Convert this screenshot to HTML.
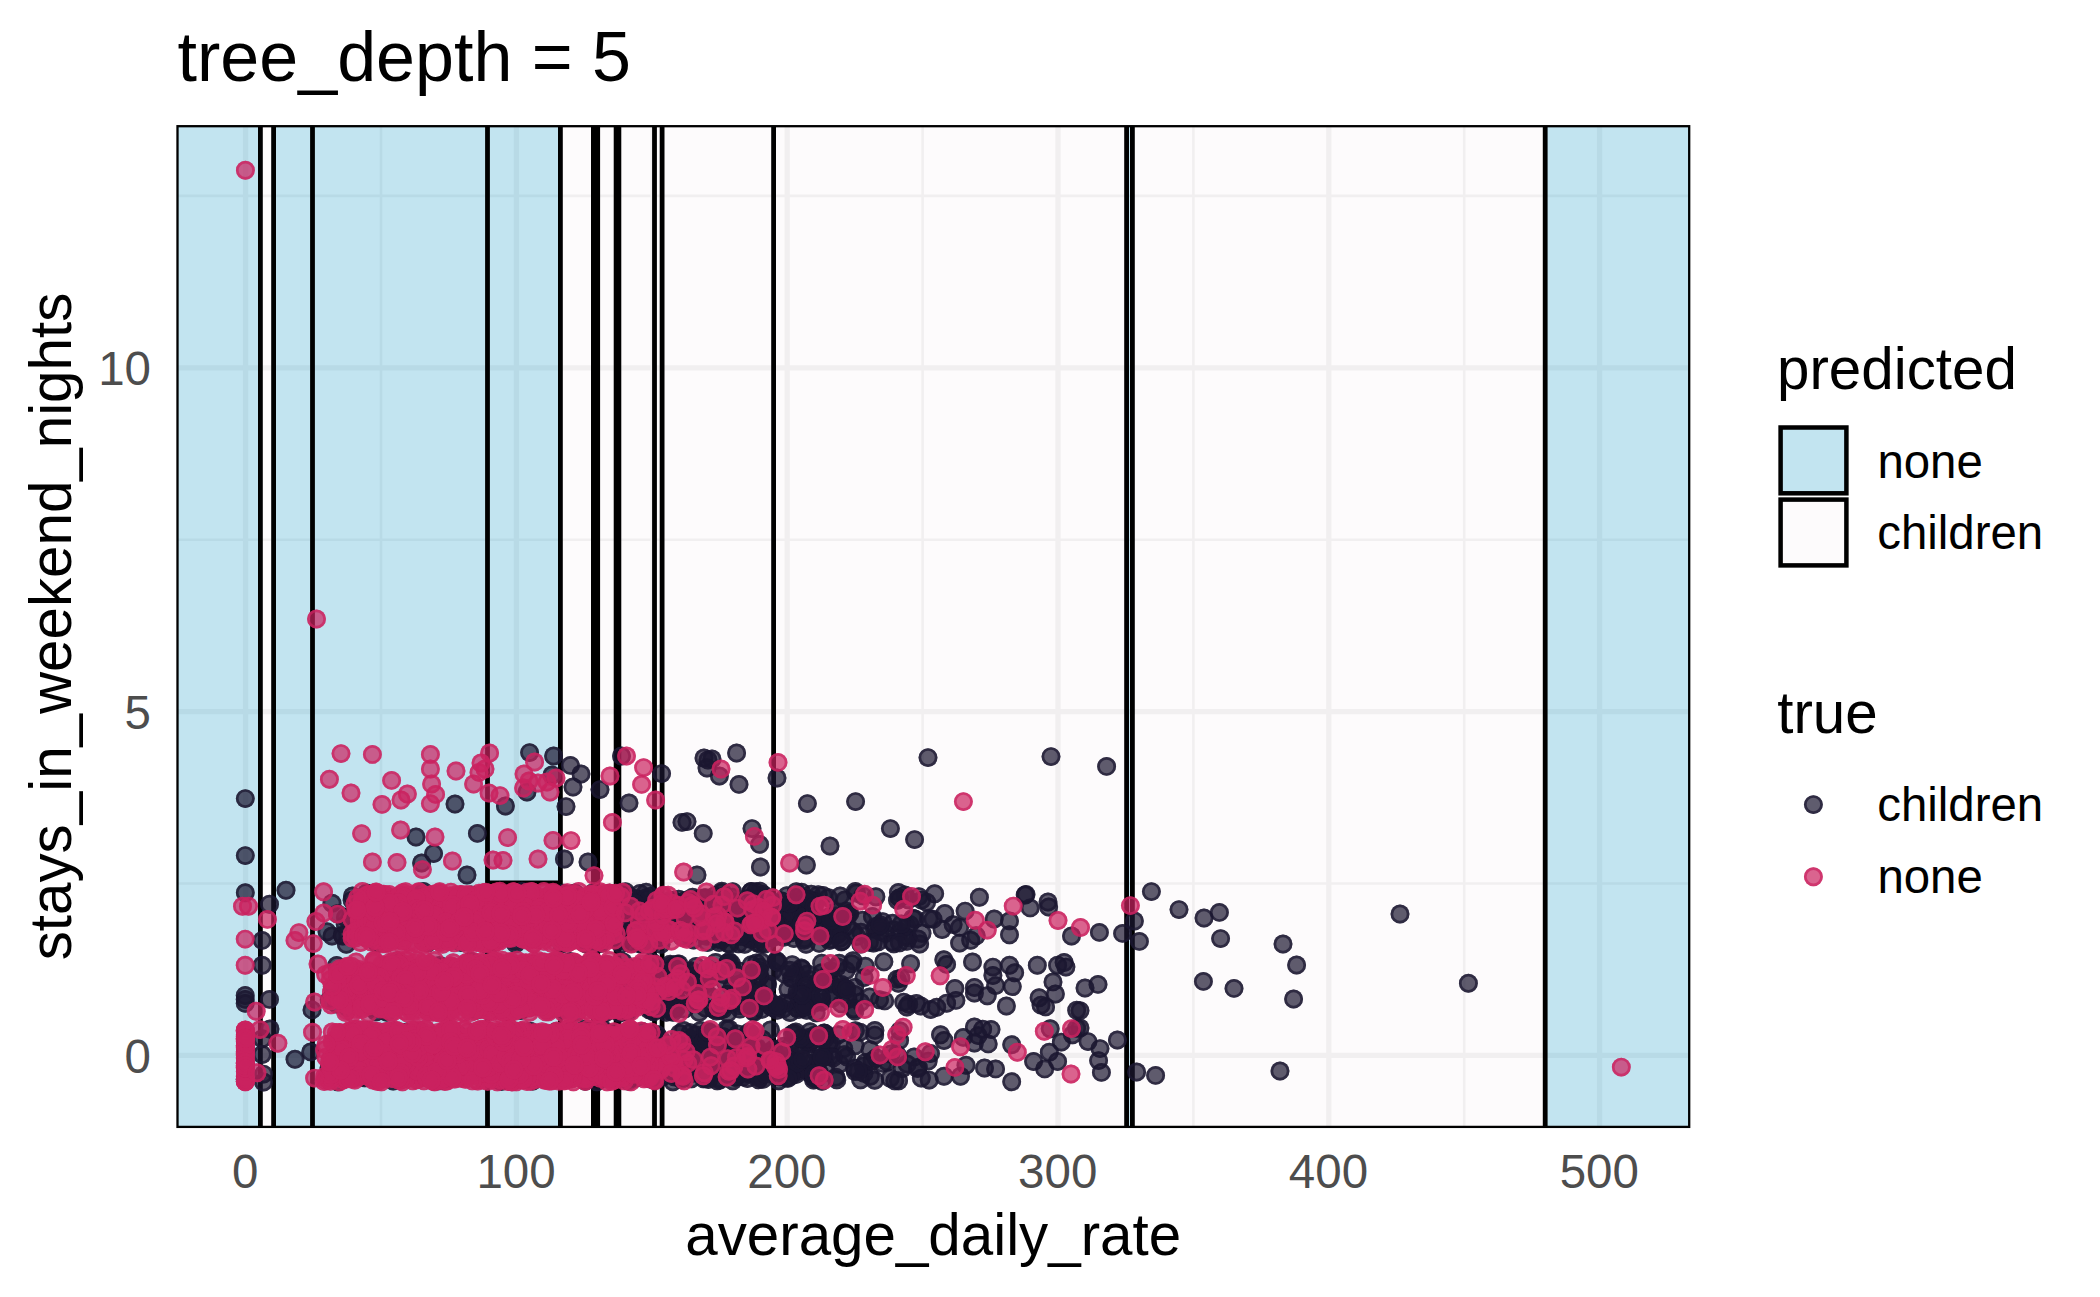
<!DOCTYPE html>
<html lang="en"><head><meta charset="utf-8"><title>tree_depth = 5</title>
<style>html,body{margin:0;padding:0;background:#fff}svg{display:block}text{font-family:'Liberation Sans', sans-serif}</style></head><body>
<svg width="2100" height="1297" viewBox="0 0 2100 1297">
<rect width="2100" height="1297" fill="#fff"/>
<g id="panel">
<rect x="177.5" y="126.2" width="1511.7" height="1000.7" fill="#FDFBFC"/>
<g stroke="#F1EFF0" fill="none">
<line x1="177.5" x2="1689.2" y1="883.5" y2="883.5" stroke-width="2.6"/>
<line x1="177.5" x2="1689.2" y1="539.7" y2="539.7" stroke-width="2.6"/>
<line x1="177.5" x2="1689.2" y1="195.9" y2="195.9" stroke-width="2.6"/>
<line y1="126.2" y2="1126.9" x1="381.0" x2="381.0" stroke-width="2.6"/>
<line y1="126.2" y2="1126.9" x1="651.8" x2="651.8" stroke-width="2.6"/>
<line y1="126.2" y2="1126.9" x1="922.6" x2="922.6" stroke-width="2.6"/>
<line y1="126.2" y2="1126.9" x1="1193.4" x2="1193.4" stroke-width="2.6"/>
<line y1="126.2" y2="1126.9" x1="1464.2" x2="1464.2" stroke-width="2.6"/>
<line x1="177.5" x2="1689.2" y1="1055.4" y2="1055.4" stroke-width="5.3"/>
<line x1="177.5" x2="1689.2" y1="711.6" y2="711.6" stroke-width="5.3"/>
<line x1="177.5" x2="1689.2" y1="367.8" y2="367.8" stroke-width="5.3"/>
<line y1="126.2" y2="1126.9" x1="245.6" x2="245.6" stroke-width="5.3"/>
<line y1="126.2" y2="1126.9" x1="516.4" x2="516.4" stroke-width="5.3"/>
<line y1="126.2" y2="1126.9" x1="787.2" x2="787.2" stroke-width="5.3"/>
<line y1="126.2" y2="1126.9" x1="1058.0" x2="1058.0" stroke-width="5.3"/>
<line y1="126.2" y2="1126.9" x1="1328.8" x2="1328.8" stroke-width="5.3"/>
<line y1="126.2" y2="1126.9" x1="1599.6" x2="1599.6" stroke-width="5.3"/>
</g>
<defs><clipPath id="cb">
<rect x="177.5" y="126.2" width="82.9" height="1000.7"/>
<rect x="273.6" y="126.2" width="286.8" height="1000.7"/>
<rect x="1129.0" y="126.2" width="1.0" height="1000.7"/>
<rect x="1545.2" y="126.2" width="144.0" height="1000.7"/>
</clipPath></defs>
<g clip-path="url(#cb)">
<rect x="177.5" y="126.2" width="1511.7" height="1000.7" fill="#C2E4F0"/>
<g stroke="#B8DAE6" fill="none">
<line x1="177.5" x2="1689.2" y1="883.5" y2="883.5" stroke-width="2.6"/>
<line x1="177.5" x2="1689.2" y1="539.7" y2="539.7" stroke-width="2.6"/>
<line x1="177.5" x2="1689.2" y1="195.9" y2="195.9" stroke-width="2.6"/>
<line y1="126.2" y2="1126.9" x1="381.0" x2="381.0" stroke-width="2.6"/>
<line y1="126.2" y2="1126.9" x1="651.8" x2="651.8" stroke-width="2.6"/>
<line y1="126.2" y2="1126.9" x1="922.6" x2="922.6" stroke-width="2.6"/>
<line y1="126.2" y2="1126.9" x1="1193.4" x2="1193.4" stroke-width="2.6"/>
<line y1="126.2" y2="1126.9" x1="1464.2" x2="1464.2" stroke-width="2.6"/>
<line x1="177.5" x2="1689.2" y1="1055.4" y2="1055.4" stroke-width="5.3"/>
<line x1="177.5" x2="1689.2" y1="711.6" y2="711.6" stroke-width="5.3"/>
<line x1="177.5" x2="1689.2" y1="367.8" y2="367.8" stroke-width="5.3"/>
<line y1="126.2" y2="1126.9" x1="245.6" x2="245.6" stroke-width="5.3"/>
<line y1="126.2" y2="1126.9" x1="516.4" x2="516.4" stroke-width="5.3"/>
<line y1="126.2" y2="1126.9" x1="787.2" x2="787.2" stroke-width="5.3"/>
<line y1="126.2" y2="1126.9" x1="1058.0" x2="1058.0" stroke-width="5.3"/>
<line y1="126.2" y2="1126.9" x1="1328.8" x2="1328.8" stroke-width="5.3"/>
<line y1="126.2" y2="1126.9" x1="1599.6" x2="1599.6" stroke-width="5.3"/>
</g></g>
<g stroke="#000" stroke-width="4.8" fill="none">
<line x1="260.4" x2="260.4" y1="126.2" y2="1126.9"/>
<line x1="273.6" x2="273.6" y1="126.2" y2="1126.9"/>
<line x1="312.5" x2="312.5" y1="126.2" y2="1126.9"/>
<line x1="487.5" x2="487.5" y1="126.2" y2="1126.9"/>
<line x1="560.4" x2="560.4" y1="126.2" y2="1126.9"/>
<line x1="593.4" x2="593.4" y1="126.2" y2="1126.9"/>
<line x1="597.7" x2="597.7" y1="126.2" y2="1126.9"/>
<line x1="616.2" x2="616.2" y1="126.2" y2="1126.9"/>
<line x1="618.8" x2="618.8" y1="126.2" y2="1126.9"/>
<line x1="654.5" x2="654.5" y1="126.2" y2="1126.9"/>
<line x1="662.1" x2="662.1" y1="126.2" y2="1126.9"/>
<line x1="773.6" x2="773.6" y1="126.2" y2="1126.9"/>
<line x1="1126.6" x2="1126.6" y1="126.2" y2="1126.9"/>
<line x1="1132.4" x2="1132.4" y1="126.2" y2="1126.9"/>
<line x1="1545.2" x2="1545.2" y1="126.2" y2="1126.9"/>
<line x1="487.5" x2="560.4" y1="882.8" y2="882.8"/>
</g>
<rect x="591.1" y="126.2" width="8.9" height="1000.7" fill="#000"/>
<rect x="613.9" y="126.2" width="7.2" height="1000.7" fill="#000"/>
</g>
<defs>
<marker id="mk" markerUnits="userSpaceOnUse" markerWidth="24" markerHeight="24" refX="12" refY="12" viewBox="0 0 24 24" orient="0"><circle cx="12" cy="12" r="9.45" fill="#1B1730" fill-opacity=".7"/><circle cx="12" cy="12" r="8.10" fill="none" stroke="#1B1730" stroke-opacity=".7" stroke-width="2.70"/></marker>
<marker id="mn" markerUnits="userSpaceOnUse" markerWidth="24" markerHeight="24" refX="12" refY="12" viewBox="0 0 24 24" orient="0"><circle cx="12" cy="12" r="9.45" fill="#CB2260" fill-opacity=".7"/><circle cx="12" cy="12" r="8.10" fill="none" stroke="#CB2260" stroke-opacity=".7" stroke-width="2.70"/></marker>
<clipPath id="cp"><rect x="177.5" y="126.2" width="1511.7" height="1000.7"/></clipPath></defs>
<g id="points" clip-path="url(#cp)">
<polyline fill="none" stroke="none" marker-start="url(#mk)" marker-mid="url(#mk)" marker-end="url(#mk)" points="677.8,1076.6 882.8,921.8 553.6,962.5 786.8,1068.2 832.1,998.2 797.3,1048.3 942.1,929.5 612.6,915.0 447.6,937.8 490.6,967.3 824.3,1056.8 364.2,913.3 503.4,972.3 807.7,900.1 679.6,1033.4 819.1,930.2 776.5,960.4 701.8,1064.8 745.4,1073.3 621.3,937.1 799.7,931.6 773.2,1007.1 598.5,939.0 739.6,1072.6 503.6,1044.1 718.1,1072.6 761.0,1068.9 708.8,935.0 803.5,898.0 864.1,977.6 710.8,996.2 724.2,901.2 770.1,929.9 724.9,897.6 620.8,944.3 580.6,1036.4 390.5,1060.9 770.0,1053.0 692.6,897.2 678.9,963.9 616.7,980.4 705.0,911.6 771.4,1007.0 432.6,914.9 386.5,1043.0 854.7,987.4 723.1,923.8 746.8,919.0 611.7,895.3 679.5,1077.4 526.7,919.6 560.5,1055.1 534.7,919.4 738.6,1053.8 364.8,1077.7 617.2,1047.1 611.0,1041.2 848.0,999.5 635.6,1057.8 738.5,990.3 457.9,1051.7 609.6,1048.0 585.2,973.4 577.1,1012.4 744.7,930.3 636.6,898.6 791.5,978.6 854.7,1068.3 883.9,961.8 738.6,915.5 779.8,910.2 905.8,936.5 781.9,927.3 760.0,991.8 687.3,1045.3 831.3,939.0 594.3,941.4 864.0,1073.4 758.0,1074.1 818.0,1071.4 603.4,1029.6 639.4,1050.0 856.8,936.5 795.4,1052.8 783.2,1068.0 635.6,901.3 598.7,989.3 651.7,1010.3 750.5,1036.3 514.5,906.9 796.4,1061.2 712.4,914.3 467.0,966.7 784.7,905.7 734.4,1077.4 829.4,917.1 619.2,906.9 353.7,994.6 767.7,984.0 720.1,1078.4 650.5,1079.1 933.0,919.2 563.3,977.3 809.4,1043.7 758.9,1070.0 783.5,1046.3 716.6,933.4 821.7,998.5 626.7,899.2 630.8,1067.7 826.4,1035.9 455.9,1077.6 882.6,1063.4 377.8,943.5 728.0,943.5 757.7,930.1 709.3,978.6 693.5,972.3 623.7,900.0 764.7,944.1 787.0,1069.7 346.3,944.3 399.6,1070.3 493.2,1037.8 690.8,1044.3 630.4,985.6 327.0,931.7 680.4,917.7 812.0,922.7 688.2,1059.7 816.1,1012.8 605.3,1012.9 793.1,1072.3 821.3,927.9 426.5,1004.0 749.7,973.7 735.4,1057.1 791.0,1061.1 621.0,1055.4 366.8,1004.4 909.8,924.5 501.1,1081.6 775.3,906.0 526.4,1036.3 661.1,975.1 670.4,900.3 865.3,1062.4 715.5,1058.0 694.6,1000.9 476.0,1010.4 560.8,938.1 712.1,1047.0 524.8,933.5 934.7,893.8 673.8,900.5 840.4,918.6 817.9,1062.8 653.6,1011.9 771.2,1062.7 640.6,968.2 701.2,1054.1 634.6,1042.3 520.8,1010.5 381.5,933.5 739.3,1056.9 798.0,914.0 763.1,1062.3 681.4,1077.8 587.9,986.6 571.7,1054.3 898.4,983.4 539.1,1068.7 899.5,897.9 757.4,1059.1 824.6,1033.3 723.5,1036.6 765.4,997.6 463.5,915.9 449.2,1043.6 809.6,1042.3 483.3,931.3 691.4,1078.7 844.7,900.0 716.0,971.5 686.0,1040.3 490.3,996.9 728.5,1057.9 774.6,916.4 819.5,1075.3 573.8,990.0 543.5,1062.6 727.9,925.6 755.6,1060.6 535.4,900.6 811.2,995.9 678.4,1053.9 801.3,968.0 800.2,924.8 629.6,943.0 593.7,1069.8 874.7,1035.1 575.5,1004.3 751.1,1069.1 708.4,1031.3 854.9,1011.0 733.7,917.4 486.6,914.2 836.8,920.4 716.5,939.0 617.4,930.6 642.2,1031.4 929.2,1080.1 482.6,934.0 673.0,1012.4 577.2,1036.8 846.8,926.3 829.6,916.5 742.5,1039.7 810.6,925.1 580.4,896.6 523.0,1034.9 500.4,936.8 872.4,916.4 794.1,912.4 358.0,983.0 729.1,1029.0 518.1,1035.2 560.8,924.7 776.3,961.6 703.5,1078.8 783.0,915.1 656.5,1050.0 587.3,1006.0 544.1,910.9 366.6,892.9 530.3,1031.2 702.8,1053.7 792.2,964.6 347.4,1039.8 810.0,1073.5 511.2,924.8 423.6,1056.6 815.4,1066.5 774.2,903.4 646.4,921.7 499.9,963.9 558.6,979.0 897.1,979.1 800.9,1067.4 681.9,997.2 571.4,1000.8 469.2,912.1 370.1,979.8 898.6,1080.8 336.8,1038.5 617.6,900.2 588.1,1029.6 713.5,1009.3 462.7,913.8 658.1,970.7 793.1,919.2 918.9,896.6 555.7,1031.7 585.6,1080.6 632.2,998.8 397.3,939.5 750.8,1033.4 691.5,986.7 758.9,1064.7 917.5,1068.6 613.2,1006.5 777.1,1005.1 370.5,996.5 659.3,978.5 646.8,916.6 534.8,1048.9 635.0,1066.8 374.6,998.5 836.6,920.3 772.7,913.9 581.7,924.0 521.9,891.3 546.2,977.9 720.8,939.8 830.6,970.6 567.6,1009.2 739.3,935.7 612.7,1076.2 592.3,902.4 691.3,970.8 687.9,924.5 668.9,990.7 851.8,963.7 821.7,963.3 609.3,1065.6 576.3,1044.7 499.4,979.4 676.8,999.9 672.5,968.0 532.7,1081.0 666.1,910.3 735.0,1055.3 741.0,932.8 375.0,1008.7 856.4,893.1 585.0,1046.1 521.9,1069.2 478.3,1069.6 727.6,1013.1 743.5,1004.8 623.8,908.5 622.7,906.4 477.1,1057.9 784.3,973.7 738.8,1042.6 571.5,1078.6 794.4,917.9 763.4,894.4 740.0,930.6 541.6,921.8 905.0,895.0 776.1,1007.8 614.6,909.6 660.6,938.7 558.1,1000.5 477.1,1066.2 643.9,1039.1 846.3,915.6 785.1,929.0 641.0,944.3 621.2,1010.0 780.0,1076.9 810.4,1063.1 708.6,969.3 410.3,1066.3 836.8,1079.9 503.1,1068.3 579.7,983.3 828.3,1044.9 609.8,893.2 702.8,915.7 518.1,1077.1 860.8,944.0 714.8,895.6 674.2,1076.8 662.1,1077.2 349.0,1032.1 654.9,1080.3 718.6,913.2 465.9,1065.1 486.6,1075.1 351.0,915.3 685.6,1068.0 839.7,1064.0 664.3,917.7 870.3,1076.2 854.7,994.5 690.4,1038.6 771.5,937.0 650.9,1004.3 723.3,904.9 838.2,1034.7 724.6,933.3 855.2,1071.6 410.3,1033.4 754.0,992.7 727.1,994.3 779.2,1071.7 565.7,973.5 754.0,1012.4 898.4,892.4 860.9,932.2 701.8,1070.4 779.3,1049.6 798.7,1009.5 756.5,990.7 550.7,970.7 725.0,981.5 426.8,934.6 846.1,970.5 813.4,1077.6 900.9,978.3 822.3,929.4 734.1,971.4 345.4,917.7 360.9,1076.7 840.0,938.2 443.5,898.0 704.2,983.8 598.4,1041.9 786.4,1077.8 825.4,932.4 592.2,1032.6 352.8,1052.5 459.8,934.2 621.6,1000.3 837.3,934.9 740.3,910.6 766.5,986.3 860.6,1079.7 702.3,1058.9 874.7,1080.2 839.2,963.2 374.0,991.3 810.5,992.2 799.9,1054.3 670.2,964.1 400.6,910.2 700.1,1038.5 587.8,1066.5 507.9,1000.0 614.8,932.1 659.5,1062.1 759.5,977.1 693.2,1042.5 713.9,927.3 706.2,1042.9 802.3,969.1 722.0,918.3 855.1,1045.8 386.9,1012.2 633.9,1054.8 552.5,1073.2 586.3,969.6 458.5,976.9 641.7,1052.7 511.2,921.7 747.4,1078.6 620.6,1043.8 456.9,1052.6 339.7,975.9 604.5,1054.6 709.8,1037.1 631.2,1034.8 578.2,922.9 706.5,936.4 813.6,1080.1 563.1,1041.2 773.7,1049.0 890.3,1078.2 908.2,899.8 617.2,1078.5 628.2,1012.3 616.8,896.4 661.1,905.7 804.1,940.3 470.6,961.1 690.9,925.3 663.0,932.8 561.7,944.1 691.7,1002.4 894.8,1080.8 715.2,1061.1 479.4,938.8 661.1,1039.4 559.7,969.4 689.0,930.3 843.8,1048.6 730.6,905.3 518.4,896.7 550.6,1054.3 450.3,1050.0 622.1,1042.7 622.6,979.4 682.1,915.2 629.1,918.5 885.5,933.6 732.6,897.3 536.5,1002.8 696.1,966.5 738.6,943.8 821.6,1002.1 532.4,901.1 630.9,999.3 789.6,1060.5 591.5,1032.8 741.5,1001.1 654.2,1045.5 653.5,903.3 783.4,1008.8 571.8,1030.3 874.6,929.1 617.6,1047.0 630.6,1053.5 756.2,911.1 828.4,897.7 786.4,1067.2 777.1,1010.2 531.6,1070.6 722.5,1005.9 789.5,1046.8 869.3,942.3 662.7,903.4 716.3,1011.0 536.7,1065.0 766.4,1052.9 840.5,917.8 760.1,929.4 829.1,1042.6 940.5,1034.8 727.8,962.6 721.8,892.8 740.9,909.9 406.8,1031.9 751.0,922.2 893.8,943.7 814.9,919.3 914.1,1057.0 531.8,1052.8 783.2,908.2 695.9,1054.6 332.0,903.2 752.3,912.5 761.9,1009.3 697.5,986.2 481.0,1046.8 761.2,997.3 359.3,990.0 461.0,942.5 477.6,898.5 332.0,936.0 397.9,960.8 614.3,1001.8 755.8,891.8 896.9,1054.1 442.7,966.6 792.5,915.2 748.2,938.2 423.8,1075.2 811.0,1058.7 640.6,1044.1 662.5,1008.3 842.1,924.2 422.2,1072.7 664.5,926.8 599.6,914.4 801.6,892.1 707.5,942.6 824.0,923.5 659.0,1042.0 662.3,1044.4 678.7,899.1 806.7,1010.2 627.1,909.4 803.3,903.3 676.8,917.9 710.6,932.0 406.8,970.7 863.3,1066.1 855.4,1030.8 451.3,969.0 704.8,984.8 893.4,929.7 682.0,936.9 739.7,984.0 561.5,975.3 354.4,913.0 797.6,1071.4 471.5,903.1 916.4,1003.4 624.6,1061.5 892.6,923.2 874.9,1030.4 667.0,983.1 844.1,1054.6 660.9,1007.7 902.4,1068.5 649.1,973.8 559.5,896.1 669.9,914.2 748.8,1002.5 719.1,1046.5 713.4,931.8 821.2,1039.1 402.7,898.8 815.9,1068.1 801.1,992.3 635.2,1078.6 831.3,1044.1 690.8,932.9 508.7,919.0 809.1,979.4 672.6,1072.4 625.0,938.9 599.6,1053.0 352.1,900.2 564.2,937.6 393.2,1081.0 457.6,1034.1 453.7,998.4 515.6,943.9 585.5,940.2 804.4,982.3 740.2,1056.4 632.4,943.6 671.7,965.4 634.1,1063.5 755.8,1057.8 899.8,1030.7 772.8,971.0 796.3,891.8 783.8,918.3 628.6,1071.6 762.9,1079.3 405.7,983.6 596.8,1081.8 700.6,1030.5 668.9,1066.9 771.8,1007.1 380.2,982.6 822.1,1051.9 623.1,962.0 848.5,913.5 740.6,930.2 720.4,1061.7 610.6,1073.9 435.7,909.2 647.9,941.0 781.1,936.4 810.0,1031.8 759.6,1077.5 329.2,1000.1 718.1,1071.1 651.8,991.9 532.9,1062.1 677.9,908.3 906.8,941.3 635.2,976.7 589.1,963.1 612.4,978.5 635.5,918.3 751.3,937.0 761.8,962.2 473.1,1050.5 804.5,938.6 545.8,1056.8 830.3,1056.5 526.5,1074.3 764.8,897.0 428.0,942.7 600.1,974.2 768.8,1052.8 715.6,962.4 770.5,1029.9 642.4,938.8 384.0,1057.7 366.8,1034.3 860.6,1002.3 356.7,1047.0 753.8,1010.7 736.0,1077.0 674.9,991.1 609.1,976.7 563.2,893.8 845.2,988.7 692.5,1069.6 900.0,931.7 770.8,938.1 681.0,910.7 566.5,937.2 622.9,894.0 705.0,990.1 596.9,936.8 593.0,1033.2 705.7,1078.5 490.4,983.4 620.2,1070.1 593.6,1058.5 912.7,918.2 628.6,1081.3 732.1,987.3 723.2,1009.4 634.5,1043.0 699.2,1012.2 687.3,979.3 806.8,1041.6 600.7,943.6 676.3,1008.3 915.0,919.0 827.3,935.2 819.3,1072.5 619.1,967.7 760.6,932.2 342.5,935.1 493.1,942.7 818.2,894.7 770.8,925.0 751.4,964.8 786.9,895.8 766.0,912.7 577.4,972.8 769.1,1000.4 739.1,971.0 781.1,900.7 654.6,968.8 626.1,1049.8 724.0,1074.3 840.2,896.0 648.3,1062.0 619.4,919.3 394.1,1047.2 630.6,1068.2 762.5,929.3 791.0,902.5 672.0,974.0 758.0,1074.9 836.1,915.8 337.5,913.7 724.7,937.8 792.0,1001.6 639.9,893.5 696.7,1045.1 846.6,911.2 797.2,992.2 822.0,1081.3 666.7,1008.2 626.6,1035.5 652.8,937.0 739.7,990.7 736.8,931.2 537.9,967.6 756.0,932.4 729.8,944.2 899.6,1040.2 551.7,972.6 681.1,973.7 777.7,923.9 814.0,1003.4 673.5,1072.6 423.5,891.5 750.9,939.6 579.2,965.4 701.8,1042.2 826.9,981.6 553.8,1039.2 666.3,1012.4 773.8,911.1 588.9,899.5 658.1,997.4 607.4,1061.5 650.1,969.9 681.8,1040.6 721.8,891.3 415.5,1065.1 719.8,1080.1 790.1,1012.5 345.5,1072.4 498.8,929.1 689.6,935.6 555.6,896.1 853.0,960.7 329.0,1068.0 553.7,978.8 677.3,902.4 685.7,1063.8 831.6,928.1 599.3,906.1 732.3,1072.0 695.4,1034.7 753.8,1067.7 829.4,940.5 601.0,922.6 669.1,1050.6 612.0,898.2 619.6,1036.5 397.1,1001.3 726.0,905.6 673.4,967.7 473.9,1074.1 926.6,902.3 796.0,1007.6 731.5,1071.5 726.6,1071.8 458.9,1077.4 584.7,1029.1 610.3,1005.7 442.8,1000.0 727.8,963.9 759.9,967.2 892.3,942.0 687.2,980.4 673.0,983.8 722.1,1070.7 649.3,1055.8 651.3,1057.5 677.0,919.0 439.4,965.4 840.5,987.7 708.0,917.5 666.6,995.1 371.7,936.7 803.8,916.7 570.0,961.5 707.0,924.6 598.6,1035.8 696.4,899.8 752.6,993.5 749.7,898.0 734.4,1067.5 830.9,995.4 542.0,1049.9 734.9,1038.4 627.9,1044.3 930.5,1053.5 875.8,926.5 918.3,1067.1 765.0,924.9 730.6,935.0 338.9,1050.2 705.7,897.6 872.1,1060.7 849.8,913.6 821.7,972.6 749.5,1073.9 879.2,926.8 862.6,920.2 788.9,1068.8 847.1,997.2 767.8,899.8 473.1,1067.4 793.9,938.5 757.2,942.7 769.7,1059.6 596.9,1066.5 897.5,900.3 724.7,967.7 816.0,1075.6 649.2,1009.7 760.3,944.1 753.1,1045.6 853.0,931.5 887.1,1061.8 565.6,906.2 508.0,898.4 722.8,1040.6 521.2,1055.6 528.6,990.9 561.8,1010.0 674.8,1000.8 813.6,900.8 376.2,1011.9 910.6,963.8 644.0,991.1 486.4,1052.9 760.6,911.6 655.0,1061.6 661.0,970.7 614.7,1032.5 444.4,1072.0 536.7,970.4 451.9,1066.3 651.8,917.8 595.3,1039.5 557.6,918.2 502.6,910.9 944.0,1076.3 617.3,985.1 361.7,1073.5 684.5,1009.1 650.4,1060.4 717.2,1080.7 646.5,1071.7 366.7,897.6 661.0,944.2 879.7,931.4 660.9,918.6 808.1,920.2 818.7,926.8 692.7,1073.4 580.6,976.2 701.7,974.7 535.1,1059.4 795.7,896.7 515.3,941.1 653.0,1079.5 448.4,1068.1 812.5,1038.7 794.0,1033.1 740.3,1005.9 807.6,1005.9 903.7,1002.1 615.7,973.9 589.7,905.5 721.5,1064.1 750.8,999.4 716.0,922.0 689.9,902.4 468.7,1042.6 645.5,1002.0 706.5,1036.4 591.9,993.7 549.6,1057.8 341.8,983.7 578.8,1072.0 579.2,913.3 633.9,920.2 636.9,1043.2 603.6,967.0 507.2,1075.5 718.0,1005.6 414.3,1053.1 498.1,939.6 841.5,1003.9 529.1,987.7 549.3,908.4 336.7,965.4 540.8,988.7 405.1,898.9 752.6,989.0 593.2,1031.6 433.1,927.7 358.4,1032.0 696.5,994.4 564.1,904.1 681.2,1072.5 758.5,1079.8 825.9,937.0 629.2,896.3 693.6,940.0 919.7,944.0 562.6,933.0 803.3,1068.8 545.3,898.8 342.8,936.0 654.5,941.6 908.7,1004.3 831.1,983.9 651.0,934.6 596.6,1043.2 734.1,1037.9 625.5,891.8 596.4,943.4 760.6,904.3 509.4,909.1 784.3,1003.3 672.5,925.6 829.0,917.7 519.6,1052.8 778.3,962.4 353.4,971.4 757.5,938.9 637.2,967.2 835.9,1077.2 756.7,1071.8 661.5,902.7 650.3,1077.7 563.8,893.2 568.2,1057.9 647.0,944.4 457.3,1045.0 631.8,911.0 819.2,943.4 650.8,896.2 517.5,971.2 452.9,1057.4 683.6,1030.5 337.8,1081.8 352.5,896.0 743.1,1076.7 806.1,1039.2 637.9,1076.1 757.3,1047.6 375.3,1002.8 586.1,943.1 634.6,931.3 556.1,1076.6 379.1,917.8 666.4,1005.9 610.0,1074.5 443.7,986.3 637.4,967.8 823.7,1056.3 615.4,1042.6 846.7,1056.7 422.7,1036.3 767.2,1001.3 639.8,903.0 767.0,906.4 719.2,942.6 790.8,932.9 860.0,1032.1 590.3,1044.4 643.2,941.4 369.1,1049.3 580.0,913.8 788.2,1059.7 814.7,920.7 329.4,1074.6 621.7,1056.3 611.4,935.8 818.7,1059.0 648.6,1033.8 414.6,1051.6 744.7,944.3 708.0,1039.9 462.6,911.3 795.8,1074.5 654.9,981.8 613.7,998.7 607.5,964.7 790.9,1076.1 649.7,1005.2 495.2,1059.4 833.1,1057.8 373.1,1053.5 645.3,911.8 613.5,928.5 732.8,1080.7 383.4,1040.9 535.6,918.0 657.0,1034.5 729.1,961.4 834.8,920.5 588.3,1066.3 537.1,983.4 795.4,972.7 689.6,1058.6 645.7,917.0 673.0,1081.7 759.8,1078.1 723.9,974.6 777.9,1005.5 575.4,1034.0 783.0,1068.2 691.9,1062.6 711.1,1033.1 783.3,937.4 573.9,1066.8 654.9,925.9 793.0,930.1 675.3,995.8 870.1,1049.6 823.0,895.5 748.0,931.9 690.2,1032.7 604.1,1040.0 675.9,904.6 725.9,1004.0 825.8,1066.7 508.1,893.9 646.1,892.3 733.0,1052.4 778.1,1071.6 873.4,943.0 724.4,895.6 759.5,975.5 773.2,937.6 672.6,923.6 345.1,1053.3 557.5,916.5 609.6,1039.5 677.0,964.3 853.8,1008.8 664.6,981.9 706.2,970.1 703.3,912.3 728.0,1053.2 674.8,1006.8 484.1,921.1 814.0,906.5 908.2,938.1 708.4,1079.6 600.2,1062.8 706.6,1047.2 685.8,900.3 622.3,895.6 570.7,1058.0 673.3,994.2 612.5,1079.2 449.8,933.8 815.6,914.6 828.7,973.5 438.9,1080.8 703.8,926.6 737.7,1069.3 819.7,933.2 766.0,910.3 775.7,924.0 737.6,1034.0 816.5,983.3 756.4,962.9 936.7,1007.3 862.7,895.8 480.5,919.5 704.0,897.9 839.1,932.8 626.9,1034.5 599.9,1070.2 640.9,1067.1 575.7,963.9 646.9,1006.1 751.0,891.7 806.1,944.2 357.9,1037.7 748.9,976.0 578.1,917.1 727.1,964.8 819.6,980.6 899.4,897.9 345.2,924.6 471.1,895.0 740.5,1073.6 636.4,1037.8 505.8,988.4 798.0,995.2 907.1,1064.0 706.6,925.3 756.0,1048.2 807.6,973.9 655.3,985.3 507.9,1076.6 587.5,1063.2 646.5,897.7 734.5,1038.9 428.5,931.0 802.4,1008.3 742.7,914.8 674.3,990.5 686.8,1051.9 731.3,963.4 768.0,919.9 831.2,920.2 683.7,973.2 865.3,966.3 906.6,925.9 513.1,973.5 425.7,1059.2 780.1,930.5 529.7,983.6 745.1,981.6 674.0,969.5 697.8,1061.6 615.5,898.4 682.1,1040.3 534.7,927.2 599.8,895.9 811.2,894.3 822.1,1057.3 442.7,1080.4 518.5,982.7 814.4,1035.3 855.4,891.5 468.7,898.1 748.7,1032.2 624.2,1035.1 875.9,896.8 336.6,1004.1 824.5,1039.1 705.2,1007.9 493.7,1068.7 666.3,975.9 890.8,1054.0 619.6,1013.1 616.4,1004.4 808.3,899.4 858.3,1071.0 709.9,1058.7 930.7,1009.5 586.4,944.0 634.5,1055.7 584.9,1039.8 884.7,1000.9 361.5,935.0 842.2,941.3 751.0,1005.4 506.0,917.4 568.4,901.7 618.8,940.7 605.4,1032.5 482.1,967.1 792.4,1034.0 509.1,917.4 726.5,1028.9 420.4,976.5 592.2,893.2 572.1,1071.0 815.7,1079.1 789.4,903.5 918.1,939.0 449.1,1062.5 512.9,1050.7 631.8,1041.6 798.3,929.5 762.5,909.4 765.9,1074.0 629.5,1006.7 499.5,903.1 732.7,901.6 644.2,913.2 765.1,1060.6 741.4,1059.7 879.5,999.7 372.1,916.2 750.8,1046.5 651.8,961.6 679.3,1075.6 782.8,901.8 944.0,1040.5 605.7,1078.4 569.1,972.9 837.3,912.7 778.7,1080.7 797.1,1062.8 807.5,1037.7 732.7,891.7 741.2,936.3 431.5,922.4 646.9,919.4 878.2,941.7 461.2,1061.3 414.6,927.9 705.3,927.8 652.1,911.1 792.7,978.2 755.1,1053.4 624.0,936.0 714.1,912.7 671.1,1049.2 922.0,933.2 554.3,898.6 420.2,897.5 670.2,1011.0 671.1,971.2 700.1,1073.6 585.2,1081.2 494.9,899.7 717.3,1052.7 722.9,899.4 536.1,994.2 841.4,984.5 688.1,904.3 567.1,986.2 505.3,1002.2 759.8,891.3 583.3,941.3 347.6,1007.8 560.7,966.8 804.3,1006.7 928.2,1061.1 332.7,988.1 574.8,893.0 841.6,987.5 588.0,1044.2 806.4,986.2 620.6,936.6 789.7,970.2 333.7,1065.0 454.0,1076.1 376.9,943.5 570.8,903.5 551.4,1057.9 579.5,1041.1 703.5,1041.5 531.2,904.1 477.9,975.7 802.6,1059.4 800.4,1038.1 837.4,966.8 452.8,1039.4 655.8,1009.6 899.4,942.8 584.8,909.2 433.1,1079.3 752.5,1047.5 398.3,900.8 573.0,1041.3 813.5,1073.9 929.0,918.7 600.8,938.3 657.3,1047.5 802.1,995.0 921.3,1078.1 820.6,995.6 484.8,1004.3 618.8,892.9 841.2,941.9 846.7,989.0 594.7,1010.1 787.9,1078.4 533.6,916.4 906.9,1007.0 746.7,1034.6 537.5,1062.4 795.8,1032.0 880.0,924.7 876.1,1057.7 739.9,1009.1 770.4,935.2 685.7,1058.3 604.1,1058.7 681.5,1079.6 612.6,911.1 824.0,1032.9 762.5,1039.2 719.6,1010.2 774.8,922.7 449.2,1036.5 751.3,891.4 707.5,1031.9 687.7,910.2 920.8,1006.0 788.1,989.3 673.1,906.9 760.5,906.4 673.7,923.0 669.7,908.5 575.3,1054.7 715.6,922.7 696.3,975.6 639.9,943.5 758.5,970.7 622.8,910.1 398.0,1056.5 901.3,924.0 746.3,901.2 657.5,1050.1 490.5,995.3 726.4,1049.5 343.2,985.4 460.4,971.1 625.1,983.0 516.4,984.3 594.8,1045.4 701.5,898.3 351.3,994.4 801.6,923.6 505.4,931.1 635.0,903.6 869.7,996.9 357.4,921.2 921.6,900.1 616.6,1008.8 814.4,906.3 526.8,978.4 486.5,944.3 245.3,798.6 245.3,855.6 245.3,892.8 286.0,890.3 269.5,904.2 262.2,940.4 262.2,965.3 245.2,995.5 245.2,999.4 245.2,1003.4 269.5,999.4 270.0,1029.0 262.2,1038.8 262.2,1054.5 263.5,1074.1 263.5,1082.0 245.2,1079.4 295.0,1059.2 312.0,1009.9 310.7,1051.9 455.0,804.0 416.0,837.0 433.6,853.6 421.6,863.0 477.4,833.4 467.0,875.0 505.4,806.0 529.6,752.6 553.6,756.0 527.0,792.0 552.0,775.0 570.4,765.4 581.0,774.0 573.0,787.0 566.0,806.6 600.0,789.6 621.5,756.0 629.0,803.0 564.4,859.0 588.0,862.0 661.6,773.6 704.0,758.0 708.0,760.0 712.0,759.0 707.0,768.0 719.4,776.0 736.6,753.0 739.0,784.4 777.0,778.0 682.0,822.4 687.0,821.6 703.2,833.4 752.0,828.6 759.6,844.4 760.4,867.0 697.0,875.0 807.4,803.6 855.6,801.6 830.0,846.0 806.4,865.0 890.4,828.6 914.6,839.6 928.0,757.6 1051.0,756.6 1106.6,766.4 1026.0,894.4 1048.0,902.0 1151.4,891.6 1179.0,909.6 1204.0,918.0 1219.4,912.4 1220.6,938.6 1283.0,944.0 1296.6,965.0 1293.6,999.0 1203.4,981.4 1234.0,988.4 1400.0,914.0 1468.4,983.2 1280.0,1071.0 1155.6,1075.4 1136.6,1072.0 1134.4,921.0 1139.4,941.4 1122.6,933.4 1099.4,932.4 1098.0,984.4 1085.0,988.0 1080.0,1010.6 1080.0,1028.0 1088.0,1041.6 1100.0,1048.6 1117.4,1040.0 1098.6,1060.6 1101.4,1072.4 979.4,897.2 965.1,911.1 994.2,919.0 1009.5,920.9 1009.5,934.8 1025.2,895.0 1030.2,907.9 1048.7,907.0 1071.5,936.0 976.2,935.7 970.7,940.3 959.6,943.1 959.6,927.4 953.1,924.6 944.8,913.5 972.5,962.0 992.9,967.1 992.9,975.5 995.6,985.6 987.3,995.8 974.4,987.5 974.4,993.0 1009.5,965.3 1014.7,972.7 1012.3,986.6 1006.4,1006.0 1037.3,965.3 1057.6,965.3 1064.1,962.5 1065.9,967.1 1053.0,981.9 1055.4,994.0 1039.1,997.7 1041.0,1005.1 1045.6,1006.9 1076.7,1010.2 954.9,988.4 955.9,1000.4 946.6,1003.2 943.8,959.7 946.6,964.4 974.4,1026.9 982.7,1029.1 991.0,1029.5 978.1,1035.6 974.4,1043.0 988.2,1043.9 963.3,1037.4 1011.7,1044.8 1050.2,1028.7 1076.7,1028.2 1072.4,1034.7 1061.3,1042.1 1049.3,1052.2 1057.6,1061.5 1033.6,1061.5 1044.7,1068.9 984.5,1068.0 995.6,1068.9 1011.7,1081.8 966.0,1065.2 960.5,1076.3"/>
<polyline fill="none" stroke="none" marker-start="url(#mn)" marker-mid="url(#mn)" marker-end="url(#mn)" points="526.5,993.5 512.1,966.3 504.4,908.4 504.0,1046.9 363.0,983.9 388.3,1041.7 604.9,974.5 567.9,1077.8 335.5,1046.0 574.4,1062.0 467.6,903.3 569.0,1066.1 442.4,1040.2 626.5,973.0 421.0,1043.7 591.9,966.8 508.7,1040.4 557.9,960.4 497.5,898.8 720.6,971.0 470.6,1012.6 374.3,960.7 558.6,925.4 548.9,1002.9 558.1,1079.4 245.3,1063.2 484.5,1052.0 503.1,1058.3 665.8,911.4 551.8,1043.4 562.0,1055.0 479.9,994.9 594.0,980.9 673.1,903.4 496.0,1032.7 444.9,1030.7 510.4,1035.2 245.3,1081.5 495.8,978.5 498.0,900.1 446.0,1074.7 442.4,1012.2 584.5,1077.6 501.0,1009.9 540.2,1054.8 371.4,980.0 508.5,1062.9 382.7,905.7 627.8,1067.0 457.9,1073.0 462.5,914.3 588.1,1029.1 400.4,1001.3 395.5,1050.3 507.8,1030.6 473.4,1075.6 492.3,919.0 498.7,1010.6 394.1,1030.5 559.8,933.6 393.1,983.3 501.9,1070.2 607.1,1081.8 457.3,1038.7 598.0,941.0 560.8,937.2 349.4,1030.8 416.0,912.2 516.9,1001.5 402.4,1032.7 375.3,1045.5 489.6,988.3 608.0,1046.4 460.6,894.6 601.1,1043.7 419.2,1030.7 583.1,907.7 551.9,894.3 354.9,903.9 553.1,961.4 356.7,1074.0 477.1,1039.0 461.7,996.0 474.7,1056.1 404.6,896.6 498.7,940.1 541.4,1001.2 796.1,894.8 540.1,913.0 573.6,1030.9 753.1,903.6 523.7,927.7 460.8,941.1 431.5,1079.8 360.2,1075.4 446.5,976.2 515.5,997.7 394.4,1065.1 418.8,1039.6 401.5,1074.2 439.2,905.2 565.4,1070.9 450.1,1047.7 475.6,1058.1 462.2,1078.6 448.2,990.2 574.9,917.6 654.5,932.6 546.9,1035.8 607.7,1059.8 382.2,1052.4 636.5,1044.0 417.1,1043.1 572.6,910.4 533.1,1037.2 564.0,1048.4 378.7,1054.8 571.6,1003.3 532.9,1007.1 366.4,1075.8 577.2,909.9 495.8,1045.7 569.2,1005.9 771.4,1060.5 600.7,900.5 350.5,1039.4 650.5,1062.4 389.5,1051.3 473.9,899.2 507.7,1012.0 536.7,932.4 546.7,1080.0 511.0,1080.1 547.4,1068.2 538.2,982.1 400.9,918.5 399.3,1061.2 393.6,1031.7 513.3,1076.2 431.3,998.3 505.3,1052.6 361.2,913.3 403.8,1057.0 373.6,1054.2 712.4,989.4 412.2,929.4 413.3,1055.2 450.0,897.9 671.8,1039.4 721.9,905.0 607.1,912.2 405.2,960.1 564.0,995.9 431.7,981.7 547.8,997.0 485.8,1041.8 493.5,1035.0 519.3,1074.7 601.3,899.0 528.9,1008.1 545.8,1002.7 488.0,992.9 502.9,896.6 423.6,1048.7 362.4,891.5 432.5,1075.3 356.1,1076.9 570.6,920.6 519.6,900.2 458.5,975.5 416.1,912.0 535.5,1079.6 478.8,979.3 642.4,962.2 562.8,996.1 580.5,1056.7 453.6,924.0 550.7,1072.9 473.7,977.9 403.9,1063.5 772.9,897.6 437.3,1065.0 509.1,974.1 489.8,934.2 481.2,1044.6 669.5,929.8 468.1,1045.2 598.2,900.6 475.9,990.5 481.0,920.9 444.9,1001.2 524.1,1029.8 494.0,895.8 478.2,988.3 460.9,969.3 449.2,1058.2 761.9,920.4 419.2,909.8 590.2,1001.6 524.6,901.4 380.1,1059.1 425.2,918.3 599.6,1052.6 414.6,1072.7 557.6,997.4 588.7,922.9 576.9,902.1 400.1,994.6 643.0,1057.0 559.9,1060.6 542.7,1036.6 482.0,993.9 470.7,989.0 775.5,1066.7 419.4,892.2 595.0,984.1 404.7,1039.7 564.5,1043.5 496.1,961.8 586.7,1010.5 545.9,1041.2 445.9,1050.5 492.9,1060.5 357.3,1042.5 443.1,1057.7 508.8,893.9 594.8,939.3 373.2,1074.7 526.3,1000.4 609.5,986.2 483.3,963.0 524.7,1032.1 331.0,1004.8 500.1,1001.3 452.2,971.2 596.7,923.8 471.3,1037.2 572.0,1007.7 637.8,1057.0 324.7,1049.8 551.7,975.5 468.2,1006.4 600.6,907.7 360.1,998.9 440.1,1070.6 419.8,898.3 530.6,1081.3 593.1,1006.5 352.0,934.0 772.5,905.3 535.4,904.1 590.0,1000.7 353.7,1034.7 343.5,1079.2 347.3,967.1 442.3,1041.6 440.6,1075.4 582.4,1049.7 428.0,1072.2 554.2,970.0 514.0,1065.2 558.6,918.8 433.6,988.0 388.5,1038.8 441.8,905.6 436.8,971.8 437.2,926.3 651.9,928.5 367.7,1065.1 516.5,1058.2 359.4,916.1 420.7,1005.0 413.1,1074.7 359.3,1076.6 645.2,1059.3 563.3,918.3 330.5,972.8 442.0,1072.2 616.8,1004.3 443.2,1060.3 511.7,1053.0 472.8,961.1 532.5,940.3 464.6,928.8 687.7,1063.4 493.9,995.5 656.7,1008.4 533.0,1060.4 684.1,1059.4 693.4,1059.6 820.5,1012.4 531.3,996.8 545.0,901.6 498.5,1046.3 426.7,1060.0 354.5,1055.9 595.1,971.5 745.1,1052.8 557.9,972.3 384.0,1044.6 415.9,1048.3 804.5,930.7 384.5,966.0 245.3,1057.7 543.7,1004.9 499.9,891.3 349.6,1063.6 512.6,1066.2 557.4,915.4 490.1,1012.3 524.9,968.9 454.1,896.7 605.6,995.9 467.1,1063.2 433.4,990.2 429.7,964.9 498.0,1064.6 463.3,1038.1 379.5,927.4 397.1,908.9 385.2,969.1 448.2,1075.2 409.6,1048.1 565.4,1080.4 637.1,930.3 479.5,1000.4 366.5,938.4 556.0,931.9 594.4,932.0 484.4,966.6 480.2,1070.4 596.0,915.7 496.2,975.7 625.3,1077.1 471.4,929.6 612.5,908.3 465.4,1079.4 551.9,968.1 369.7,894.5 521.7,912.2 673.4,982.2 448.4,1000.0 577.4,975.8 508.9,932.1 580.1,1039.7 356.1,961.9 546.4,966.5 377.9,932.6 398.3,970.0 577.5,1061.4 551.4,974.8 453.5,1068.0 511.6,901.7 645.2,944.1 472.6,971.3 542.3,975.0 550.0,1046.7 344.5,984.9 505.7,1046.1 520.7,898.8 604.9,1056.4 407.8,934.4 373.0,912.1 584.8,999.7 569.0,926.8 482.8,1080.1 485.6,1040.5 422.8,1043.1 648.5,987.2 484.7,1044.5 456.2,980.7 553.4,970.6 630.8,1011.7 505.8,918.7 409.4,981.6 449.9,1010.8 460.5,1044.7 568.0,1034.9 621.0,1056.1 622.7,892.2 467.9,1042.0 500.3,915.6 485.4,1041.8 602.5,971.2 419.1,917.3 608.0,1063.0 522.7,999.4 756.8,922.9 567.3,892.7 499.3,1054.1 465.9,907.6 442.9,897.5 574.3,940.4 515.5,903.6 681.7,1074.9 631.6,1051.1 245.3,1047.3 370.8,935.7 543.8,1034.6 451.7,987.6 474.3,1067.4 559.7,903.7 479.3,967.1 504.4,1012.5 667.9,934.0 368.1,979.1 435.6,1060.4 346.0,1040.9 593.9,1073.8 646.4,995.5 413.4,1052.0 717.8,915.8 512.2,971.5 410.2,1070.2 412.9,1033.6 337.3,1057.2 545.8,1011.7 612.2,913.6 563.3,987.9 559.2,1047.0 619.0,970.0 634.6,970.2 494.1,1049.6 404.8,998.8 399.1,906.7 666.0,988.0 574.8,929.7 325.6,974.5 463.3,925.3 402.1,1047.3 435.6,894.7 429.9,895.0 575.2,1031.6 517.1,986.7 508.7,1049.5 471.4,963.5 496.5,1048.1 593.6,1062.1 523.8,963.5 477.9,977.4 344.0,1053.0 355.3,1058.8 560.3,1036.8 406.9,964.4 496.2,917.8 566.7,979.4 438.7,1055.1 417.8,960.4 422.6,1047.3 557.2,895.2 456.8,903.4 446.8,930.9 398.1,905.4 470.6,920.8 423.3,942.3 359.8,973.6 476.8,1032.0 742.5,986.9 521.8,1074.9 621.9,1075.7 540.3,1035.1 499.9,1070.1 525.8,1043.8 611.8,1036.3 390.4,1072.0 524.7,1059.4 554.0,915.4 476.8,1000.2 467.7,977.2 604.1,911.2 364.5,906.6 419.1,926.5 595.0,999.5 548.8,1079.1 453.5,1062.2 533.8,927.6 363.1,979.3 585.8,897.6 368.4,1006.1 376.5,1072.0 387.1,942.6 537.7,990.2 468.1,898.0 383.0,977.0 349.6,1056.7 491.2,997.7 526.4,1053.5 647.8,969.4 530.9,915.3 551.1,943.1 448.1,907.2 420.9,899.8 613.4,927.8 614.4,983.1 245.3,1067.4 562.5,1005.5 585.6,900.9 532.6,1033.6 571.3,903.6 439.7,923.8 368.4,914.4 633.8,966.8 578.1,967.2 636.4,1034.9 511.1,989.9 592.0,1046.3 573.6,1056.2 454.8,900.8 410.8,985.3 550.6,966.4 473.1,1065.6 824.2,1080.0 449.8,900.5 592.1,1054.2 526.2,900.4 542.0,1031.8 541.9,922.1 355.9,910.2 429.1,1067.2 626.4,1052.4 372.7,1032.6 498.1,931.4 611.1,1002.1 538.0,926.7 351.0,1062.7 513.2,891.7 534.2,972.6 595.6,917.0 475.6,1065.7 549.8,1076.4 444.4,974.1 346.6,971.6 527.8,1069.9 460.4,907.3 535.3,1048.1 566.7,1050.4 477.7,1081.0 438.9,939.3 543.8,891.4 430.6,1056.5 602.6,893.6 727.1,1077.1 532.5,892.0 616.3,933.9 489.9,1043.9 514.4,1037.3 449.1,989.7 542.5,1064.5 363.9,1065.8 508.3,925.2 548.2,1010.6 582.0,933.0 476.2,937.1 582.3,919.2 736.4,1057.5 382.7,926.5 360.5,1067.9 424.6,1068.4 529.3,899.5 359.1,1051.0 476.8,907.1 463.1,968.3 494.4,991.2 546.1,928.1 512.4,1037.6 553.5,1059.3 416.8,907.1 616.6,973.8 578.5,995.1 639.3,921.7 627.8,1009.6 804.6,925.6 448.6,1029.5 445.8,1048.0 391.2,982.0 551.7,1080.7 593.6,1038.3 522.5,1033.5 385.8,1009.5 555.3,907.9 371.1,1049.9 479.1,974.5 439.3,999.5 654.7,910.0 570.8,991.0 475.3,907.4 484.6,907.0 530.6,1073.7 576.0,918.7 572.0,1055.9 472.7,919.3 387.2,930.7 560.6,909.3 646.5,1036.1 711.1,1065.7 511.8,926.4 414.4,1051.8 510.2,923.6 481.0,923.1 351.0,1055.5 446.0,1041.3 581.3,1059.7 432.1,1067.3 333.4,1076.7 498.6,972.2 381.1,898.7 470.8,1054.0 461.9,990.4 427.2,900.2 612.7,935.2 517.9,911.0 806.9,921.1 573.3,986.9 350.5,1069.7 398.1,960.8 374.6,940.0 423.8,971.9 562.1,1052.1 558.1,1005.6 411.9,1004.5 602.1,1048.0 472.2,1070.6 359.3,919.7 549.4,977.5 592.1,977.3 612.2,1054.1 383.5,1051.4 486.0,910.3 511.9,1073.2 436.5,1039.8 471.4,898.1 590.6,960.5 671.9,908.9 633.4,1060.1 514.9,1074.5 499.8,1051.0 565.9,900.0 820.1,935.9 365.8,1046.5 635.5,930.9 454.2,942.7 455.9,1058.9 371.4,921.9 518.2,1056.1 621.0,1051.9 860.1,901.1 580.2,1072.0 458.1,908.6 476.4,1080.1 331.4,992.1 434.6,960.4 425.7,1028.9 508.9,918.5 398.8,965.2 430.0,1044.1 464.0,1012.2 527.5,1048.6 388.1,1071.1 481.0,906.0 553.7,896.9 480.2,932.0 507.8,978.2 492.9,1065.6 432.3,1073.5 751.0,1046.3 440.5,916.5 539.0,930.3 354.6,1029.2 720.2,1003.4 434.6,1081.9 604.5,1003.6 445.3,968.0 499.5,987.0 689.4,933.3 656.4,1062.8 481.6,1064.3 596.3,917.4 331.6,1069.7 565.9,1078.4 463.6,1002.5 467.4,922.8 476.1,1044.4 452.2,966.7 518.3,1066.8 412.9,1080.8 634.5,1046.6 747.9,1069.1 369.4,981.6 404.3,1059.9 589.8,1062.5 422.0,997.1 418.0,929.3 511.9,907.5 527.0,1081.6 418.1,1072.1 489.5,1077.1 458.9,1002.4 535.5,993.0 527.5,976.6 449.6,917.9 541.8,912.9 519.4,898.4 429.5,908.6 556.7,1046.6 245.3,1031.9 662.9,896.2 580.3,904.9 393.5,1065.1 548.2,897.9 353.0,1041.7 512.5,1074.9 623.6,1008.3 439.8,1051.2 393.7,932.8 777.4,1065.7 562.0,985.1 506.6,973.6 395.9,1000.8 578.1,932.8 557.7,978.1 511.1,926.2 520.1,1077.9 489.3,929.2 455.2,1075.1 409.6,984.7 611.9,922.9 598.7,1013.1 541.2,1052.7 414.6,963.0 639.5,911.0 580.7,909.6 397.5,1034.0 458.4,1071.9 636.7,937.9 380.7,908.6 413.3,1052.2 553.1,926.7 544.2,961.9 438.5,991.6 390.7,1038.4 345.2,1068.8 429.1,940.6 509.6,962.6 343.5,1079.7 465.7,1055.8 652.8,1066.0 851.0,1032.2 431.8,982.4 391.9,1078.6 651.0,1054.7 521.6,1060.5 364.0,903.4 539.6,918.0 475.7,1050.8 431.9,971.6 523.7,1052.1 467.6,1031.9 529.8,1046.7 466.6,912.4 870.1,975.2 464.0,1065.2 443.7,972.1 494.8,1077.3 463.6,897.8 460.8,894.4 494.2,920.9 388.2,1058.8 671.5,1055.8 606.8,1009.7 684.2,1080.9 493.8,1066.0 451.2,1012.2 752.7,909.7 489.4,925.4 487.5,1073.2 443.7,1064.1 613.2,985.2 524.4,1044.3 245.3,1052.1 447.3,976.0 425.5,1038.7 359.9,1044.5 583.6,900.2 517.9,984.9 370.4,920.9 446.8,1067.2 392.3,935.9 527.8,999.7 481.6,1064.6 588.8,1032.3 401.7,1036.8 707.5,968.9 370.7,1070.5 517.7,993.8 603.2,1066.0 398.3,923.6 453.9,1061.1 641.3,1031.0 582.1,906.4 415.0,1030.4 361.1,919.9 717.5,1045.1 385.8,895.1 540.2,1053.1 450.1,966.2 559.8,1004.8 600.3,1078.2 501.5,975.6 755.1,1031.1 483.2,1072.7 543.9,941.3 377.8,1069.6 516.6,1079.3 598.6,985.9 608.6,1048.6 387.2,896.6 630.5,988.8 578.7,1066.0 552.1,1050.9 460.5,931.2 534.3,1001.0 536.2,975.3 487.0,1042.5 385.4,900.3 526.3,1055.8 431.7,977.6 505.4,988.5 358.1,989.5 706.1,929.9 562.5,902.2 377.9,1051.6 350.4,1039.2 392.5,980.5 599.4,1013.2 498.5,1054.2 429.5,970.7 401.7,895.2 381.5,995.1 526.1,1033.8 378.5,1007.5 374.3,988.1 416.6,1079.9 438.4,910.6 349.4,996.2 509.6,935.3 367.6,937.5 385.8,943.7 383.2,1032.1 687.0,939.3 403.5,968.7 498.7,909.8 524.3,1055.8 451.1,1070.1 358.3,930.6 421.9,1058.6 395.1,906.9 529.4,930.3 401.2,935.4 621.7,1011.3 352.5,1013.0 509.3,1061.4 570.5,968.0 563.6,1047.0 383.2,922.6 326.4,1077.8 429.6,974.1 630.7,1029.8 385.7,1053.8 559.9,897.0 376.7,1060.8 404.4,931.0 513.8,1008.9 374.3,962.5 402.4,1081.7 533.5,1048.3 532.9,909.5 595.9,898.6 752.1,923.6 245.3,1030.6 509.1,1041.6 511.9,1073.8 433.8,1011.5 535.7,1063.5 410.8,983.1 524.6,1054.6 428.2,1038.8 495.0,1076.4 408.7,942.6 728.8,1071.2 666.6,928.6 336.6,1068.2 429.9,964.2 523.0,1072.0 557.5,895.7 433.0,1012.3 337.9,1050.0 375.1,902.7 368.0,983.6 384.6,1033.9 541.6,937.1 528.3,919.4 395.1,1002.2 350.2,1068.3 443.9,990.6 476.1,909.6 612.9,980.3 819.1,1075.7 371.6,909.9 468.0,1075.2 372.5,1030.4 563.1,986.4 515.7,964.3 648.6,997.5 521.2,938.0 394.1,1034.0 341.2,1059.5 605.6,994.7 488.2,1043.2 439.7,1004.8 414.7,990.5 359.1,926.9 337.7,971.5 597.8,1046.0 567.4,922.5 325.9,1057.2 506.9,1030.1 504.6,989.7 440.1,1035.7 484.5,922.7 433.5,996.7 405.8,973.3 778.2,1075.7 399.6,1074.4 555.4,974.4 602.1,1039.9 861.6,943.8 339.5,1032.4 519.7,915.8 584.5,990.8 245.3,1081.5 485.2,1066.2 668.1,895.3 479.1,908.8 513.4,919.7 595.0,969.5 440.5,969.6 471.3,919.1 376.5,1039.0 504.1,925.4 503.0,935.1 430.0,910.2 529.5,1012.3 506.6,1013.2 535.7,898.3 433.1,1077.8 482.6,1029.9 349.8,982.0 636.7,986.8 603.4,943.4 610.5,988.7 523.8,997.4 498.6,986.6 621.0,1074.5 525.0,989.7 403.6,975.5 428.9,968.1 677.8,978.8 458.1,923.0 642.8,1075.2 398.1,970.2 357.9,1002.3 598.1,1054.3 560.9,1053.2 478.6,990.3 560.5,1070.8 381.8,964.6 381.7,1037.2 575.4,974.5 592.5,1034.8 356.1,978.2 334.6,1073.2 516.2,1071.3 579.8,918.8 569.2,1000.2 451.9,1058.7 570.0,912.2 448.7,1037.4 488.5,893.3 646.1,978.8 473.1,1060.6 369.0,1058.8 594.6,898.5 419.4,1043.9 393.4,939.3 553.6,1037.0 507.9,1001.9 456.7,930.9 443.9,1077.1 607.2,895.1 578.5,1045.3 345.0,1004.0 488.7,1045.1 245.3,1030.2 596.2,1006.5 443.1,972.8 488.4,1030.5 364.8,1070.3 654.9,964.3 400.1,1063.4 571.2,1032.8 396.0,1030.1 520.0,930.6 641.0,998.5 481.5,941.0 424.8,1044.2 343.4,1050.7 553.9,893.8 245.3,1045.7 538.1,960.5 361.7,1030.2 555.9,979.0 462.7,935.6 412.8,1065.6 388.6,987.2 449.4,1008.1 583.1,1042.5 435.8,1080.7 541.0,997.8 466.2,1048.3 394.2,983.6 519.0,933.3 423.9,1069.6 683.4,938.1 755.9,1066.0 362.8,900.9 376.6,977.5 439.0,1054.2 446.7,899.2 540.1,973.9 421.9,1005.0 682.0,1043.0 485.7,1029.1 586.2,996.6 455.8,933.1 494.8,905.8 436.1,1001.6 356.6,1072.9 442.5,1066.1 650.4,1064.5 443.3,933.1 408.8,987.6 699.0,1000.0 516.0,1036.1 567.9,1063.9 491.8,920.3 497.1,940.9 421.8,1011.0 454.9,996.0 495.9,926.2 560.7,1069.6 513.9,911.0 403.4,1039.3 571.0,989.1 398.7,1061.1 449.6,1056.9 466.4,978.0 452.8,917.4 511.1,1035.5 614.6,940.0 484.1,934.7 416.5,1028.8 440.3,1054.3 559.1,1052.4 461.6,1002.0 553.0,985.5 360.6,934.7 531.3,891.4 456.9,1063.5 469.8,932.0 505.9,925.9 587.7,1053.4 391.4,910.3 459.4,896.7 245.3,1051.7 571.7,1034.6 842.8,1029.5 393.7,1006.9 430.0,918.0 437.3,1041.8 534.7,1042.9 577.7,928.2 460.6,922.9 506.5,970.6 330.3,1075.0 636.0,1047.2 432.2,1043.6 711.3,965.8 473.0,923.9 383.0,936.7 503.9,1077.7 359.7,1066.1 417.8,926.7 490.7,913.8 498.8,971.8 681.8,990.1 598.0,1041.0 464.7,1001.6 497.0,1052.4 362.6,971.8 447.4,1080.7 607.9,1039.7 606.7,918.3 394.2,1046.7 493.2,893.4 339.4,1081.9 762.1,933.1 486.6,1059.6 499.6,1012.9 447.9,932.3 537.6,1056.3 464.1,1039.8 571.3,927.1 526.8,963.6 561.3,965.7 529.0,977.7 245.3,1041.7 362.7,1046.9 564.4,1077.0 446.7,1070.5 586.0,1069.7 453.7,1051.0 610.2,1010.1 530.5,1077.4 544.9,892.9 245.3,1058.8 511.1,961.5 535.9,1003.2 572.0,1000.9 421.9,932.7 434.4,1053.5 360.7,1061.4 502.2,1054.7 628.5,1043.0 628.0,1053.8 439.6,1070.5 533.0,943.3 497.4,1064.2 600.8,1045.1 655.0,987.0 481.0,910.5 544.1,913.4 583.6,1056.9 394.1,919.4 695.2,1003.8 475.2,922.2 622.8,997.7 490.7,944.0 491.7,1066.7 387.6,1043.4 572.0,962.2 665.1,986.2 566.5,932.7 442.8,1069.3 548.3,1054.3 245.3,1049.0 630.7,906.1 556.0,976.8 660.7,1070.0 531.1,1059.3 507.8,1040.9 543.9,1047.0 472.4,1043.3 377.2,1067.7 656.6,900.4 478.9,1009.4 586.3,928.2 473.0,1068.9 451.5,1031.6 508.6,976.1 411.5,1065.2 633.5,1006.6 553.6,993.0 448.1,939.2 593.6,973.1 493.3,944.2 580.7,1045.0 474.3,904.9 408.1,1057.6 731.3,934.9 423.7,1031.7 496.2,900.0 590.7,998.3 400.0,910.6 497.3,1081.8 427.6,1011.3 399.2,991.5 524.9,1073.6 603.0,1037.7 500.3,1079.8 394.9,900.5 409.8,1007.9 590.5,1013.1 516.3,1081.8 357.6,1074.2 404.0,901.2 430.9,988.1 449.8,1061.3 583.0,1072.4 452.7,994.3 573.2,1056.1 479.0,893.2 470.3,917.5 587.2,913.7 651.1,1006.7 368.8,1043.6 324.2,1081.5 355.6,1042.8 431.0,1047.1 460.8,909.5 534.9,922.4 532.3,1062.6 437.0,931.3 444.0,929.7 600.7,999.8 551.1,997.5 388.2,987.3 347.3,1057.4 470.3,938.5 422.6,899.8 446.2,967.4 598.5,1005.9 671.4,941.0 425.4,1008.6 468.6,1038.9 388.5,1072.4 565.2,964.0 658.4,1068.8 496.6,984.0 389.2,939.0 453.4,984.7 460.8,898.9 561.3,935.1 350.8,1061.3 630.6,1065.3 454.3,897.5 429.2,996.6 338.6,1071.0 411.8,907.4 495.2,915.0 556.1,922.4 433.1,1038.5 535.0,1032.4 399.8,1050.9 342.7,1001.3 444.2,970.7 495.4,1065.8 376.5,901.4 375.7,1034.1 567.8,939.3 658.9,1052.5 572.9,1073.2 555.3,905.7 351.9,919.8 648.4,1043.9 368.2,1013.2 407.2,974.5 395.4,911.2 543.2,907.8 513.8,1042.2 530.4,935.9 554.5,1047.8 635.8,1054.7 636.5,1040.5 344.3,1043.6 438.2,1008.0 332.2,1042.1 435.5,967.5 538.9,903.9 509.2,1031.4 553.8,1063.7 459.7,973.2 478.4,914.9 456.3,1038.2 417.0,990.3 390.0,962.1 442.2,940.1 526.6,1071.8 369.5,934.1 441.8,1001.5 441.3,1044.6 481.1,1065.1 352.8,1031.6 387.2,1000.3 562.9,906.3 599.5,941.0 351.6,1037.0 522.2,963.2 516.2,1043.0 626.8,1031.7 433.7,984.9 529.6,939.4 763.3,913.7 464.5,1049.2 524.7,994.0 431.6,992.0 440.8,1058.2 605.2,1048.2 344.1,1073.5 339.6,1038.9 485.4,969.6 639.8,1037.9 447.8,1000.4 545.4,1054.8 604.1,1036.5 516.2,1044.0 430.8,985.5 730.0,1000.6 477.9,970.8 519.5,921.8 433.3,1059.5 570.6,1008.4 459.1,1055.2 545.8,929.7 245.3,1036.4 732.0,998.2 473.0,933.8 576.8,1053.9 484.4,1072.8 471.1,936.2 425.5,1059.9 530.4,993.6 413.0,904.9 830.4,963.5 536.5,1048.3 437.9,1049.1 588.4,1038.2 422.4,989.9 355.7,1057.6 517.8,1067.5 547.3,982.9 489.4,924.4 600.1,1058.0 354.3,1043.3 502.9,925.2 362.9,908.9 426.0,1038.4 368.5,970.6 541.9,921.5 404.7,1010.9 677.9,905.2 559.7,1000.2 397.1,897.0 483.7,1047.7 598.0,988.8 467.9,1056.8 573.8,938.8 620.9,1044.5 438.4,1080.5 442.5,944.3 393.8,1003.9 703.0,965.4 734.1,1065.9 381.7,1049.4 399.9,1064.4 374.9,892.7 561.5,1068.2 454.9,1006.3 457.3,992.7 499.5,1031.2 439.2,892.7 451.2,965.6 394.1,1066.0 542.0,991.0 487.2,936.4 493.0,973.6 546.2,1064.0 425.9,916.6 617.1,1049.6 581.6,977.4 495.0,1063.7 367.7,1030.4 582.3,1051.3 408.1,969.7 529.0,1065.8 480.7,992.4 514.3,891.9 399.5,1005.2 382.1,943.7 584.1,943.3 625.9,1071.5 413.9,1044.9 363.7,985.2 405.8,906.5 439.4,1013.0 474.8,1005.3 348.7,992.4 466.5,962.5 464.9,1062.6 439.1,928.3 538.5,968.5 609.4,960.4 565.8,1044.1 717.1,1036.7 485.9,980.0 478.0,1053.4 471.4,997.3 376.4,1065.0 533.6,943.8 569.1,1037.9 489.2,908.4 420.5,1049.5 725.2,922.0 507.9,1038.2 352.1,938.0 495.8,1056.8 422.4,1063.1 374.5,922.6 558.1,965.0 491.8,1011.4 552.9,915.0 605.8,939.8 508.1,991.7 635.5,969.3 505.6,971.5 517.5,1038.5 340.5,1052.9 574.6,962.6 429.6,936.6 531.3,911.6 352.5,1050.3 491.4,932.3 481.7,1039.0 496.5,1038.1 345.7,1012.6 587.7,992.8 464.8,1029.2 426.4,943.2 375.1,1077.6 516.1,969.7 410.1,1057.7 436.4,937.7 547.4,1007.6 575.1,1049.3 768.1,930.3 391.3,936.1 362.6,899.6 407.5,960.9 542.1,935.9 531.6,985.3 609.3,893.0 593.9,1076.5 556.9,1030.9 440.6,1037.1 523.2,1039.3 596.9,904.8 616.2,992.1 706.4,892.0 535.9,931.7 484.2,1009.9 333.8,1067.6 384.2,965.5 485.0,1031.1 450.9,1033.2 480.3,894.4 393.7,1000.1 637.0,1049.3 490.7,905.5 416.3,984.2 401.4,1069.4 574.2,962.0 603.2,1053.5 449.8,895.8 584.0,898.1 482.3,1043.3 594.3,1035.8 464.3,924.8 407.7,899.2 375.8,1078.1 533.5,922.1 564.0,1032.7 501.9,1069.3 526.9,892.2 367.1,997.8 438.3,1035.5 557.9,999.5 408.1,894.9 535.0,1063.2 544.1,1079.6 512.9,1010.7 537.8,1048.4 480.7,914.4 406.5,975.9 512.7,899.6 519.6,1035.0 583.5,933.0 381.8,894.3 668.6,991.6 389.9,1006.9 476.3,926.4 525.3,1075.0 454.3,931.4 382.4,1068.1 542.0,983.7 474.0,1059.5 644.6,1004.3 592.5,960.2 433.0,894.2 555.4,971.1 559.1,914.7 588.7,1075.0 422.1,1077.7 245.3,1066.2 615.2,965.6 487.4,994.6 520.5,898.0 547.9,1074.9 599.1,1061.9 377.2,1047.6 434.9,897.1 343.6,1070.7 354.9,1009.2 421.5,1002.3 443.4,993.2 374.6,1062.6 603.0,965.7 371.9,917.7 558.2,1074.5 636.1,1070.9 499.4,993.0 535.7,900.9 498.4,1041.3 371.5,1048.4 533.4,963.8 600.1,895.0 671.8,910.0 502.8,987.5 636.2,1053.5 532.8,899.4 435.6,931.0 403.6,896.4 378.9,1060.2 524.7,992.0 512.3,1031.7 547.8,1063.9 630.9,1081.8 587.1,1061.6 822.8,979.5 467.2,928.2 556.8,1007.7 504.1,1072.4 511.5,1011.8 482.4,1060.9 538.2,1046.5 487.7,990.1 398.8,1071.1 346.5,1010.0 543.7,991.9 487.1,942.3 557.0,915.8 468.3,912.6 565.1,902.9 354.8,1080.0 608.8,1034.5 406.4,972.9 533.8,991.1 405.3,1060.9 685.0,917.8 358.4,1029.4 587.2,927.2 631.4,976.0 445.5,1056.8 582.1,967.4 771.6,917.4 449.7,915.9 454.4,1034.5 459.4,990.9 405.1,985.5 543.4,1041.0 391.2,968.0 389.2,894.5 402.1,1056.8 515.6,1079.8 496.2,990.7 366.5,1073.7 526.8,902.0 407.6,913.0 474.7,1042.1 522.2,992.4 604.1,990.6 471.3,1035.6 609.3,1057.4 610.8,1035.6 451.9,924.5 584.9,990.7 636.5,1007.5 423.4,899.9 592.6,894.7 458.7,914.8 417.8,991.0 546.7,1033.0 649.7,1077.2 381.4,907.0 579.7,991.8 452.9,1029.9 654.7,1062.3 399.5,936.3 485.0,894.1 586.8,1071.2 593.9,1034.8 408.8,1007.6 446.1,1043.6 604.9,1009.5 766.5,899.4 548.4,1062.8 479.9,969.8 384.6,985.8 484.0,893.5 443.3,1053.8 536.6,918.2 764.0,995.9 434.3,1050.4 461.2,989.4 734.5,930.9 418.3,1044.8 384.0,928.6 458.9,1067.0 632.4,1063.0 591.2,1074.4 490.5,1002.3 528.7,907.2 450.1,1060.9 389.8,1030.7 245.3,1031.2 466.5,1072.4 576.8,908.8 519.6,1049.2 590.5,983.4 339.8,1043.7 653.0,908.3 370.4,992.3 560.7,905.6 499.1,982.6 551.2,976.6 429.6,992.9 333.7,1042.3 572.6,932.5 339.6,968.7 508.9,931.8 535.4,1041.1 523.4,1076.2 596.6,1042.4 369.7,987.3 452.4,1077.4 405.1,1060.0 448.4,971.3 411.7,995.9 485.7,986.7 563.3,926.1 366.0,995.4 373.1,1069.6 400.9,996.3 503.5,1060.7 513.8,1010.6 478.1,1064.2 536.9,1049.7 566.1,1049.4 405.3,1058.3 245.3,1063.5 495.9,932.7 505.0,896.0 758.6,907.1 437.9,899.9 580.5,972.4 567.9,941.3 350.7,978.6 704.3,1072.7 620.0,1074.4 407.6,1050.3 553.7,1057.5 752.6,1029.7 454.9,905.6 501.7,1048.0 686.1,1051.7 377.3,1043.8 630.5,979.3 245.3,1053.3 577.4,982.0 450.9,892.1 598.4,1059.1 391.5,927.6 433.0,1081.2 478.6,1074.3 730.2,892.7 582.9,1054.8 526.6,996.7 434.4,1035.1 467.9,908.5 648.8,944.3 494.1,1035.0 379.6,978.1 473.9,932.3 614.2,1080.0 330.4,1081.4 592.9,927.0 548.5,1011.7 512.8,968.1 456.8,1078.4 635.8,992.5 423.6,963.6 582.8,914.3 368.9,894.5 786.7,1037.5 612.9,896.3 427.1,1075.1 466.1,963.2 442.2,1071.1 357.8,1051.2 352.1,993.6 585.0,971.6 444.5,972.1 245.3,1039.2 482.9,915.8 489.4,1037.8 379.2,977.2 436.5,928.8 474.6,1055.6 577.0,996.1 488.3,909.7 407.3,1012.7 484.2,896.5 658.7,991.7 637.0,1004.9 459.1,1057.5 776.2,1061.6 445.3,973.4 410.7,970.4 381.7,896.6 500.1,962.5 393.7,1008.6 450.0,967.3 391.4,1056.7 492.8,930.4 533.3,961.5 551.2,1058.8 595.9,1051.8 422.3,1065.0 448.4,999.4 488.5,897.3 450.3,1054.6 334.9,997.1 552.6,1001.4 574.2,983.3 373.8,909.8 446.6,907.2 330.3,1059.2 607.4,977.7 626.7,1007.7 419.6,1052.6 521.2,923.5 387.5,1031.4 538.0,913.2 615.2,916.5 565.8,931.4 431.4,1064.9 599.1,1051.0 455.9,903.8 588.6,917.8 546.1,904.5 429.4,974.1 511.4,938.1 484.3,942.9 533.5,1061.3 540.0,900.1 434.6,1072.0 464.2,896.6 592.7,934.3 576.7,974.2 245.3,1076.2 438.1,1032.4 447.5,1042.8 453.2,962.7 484.0,1066.6 414.6,899.7 586.4,1078.4 443.8,1066.3 661.2,929.1 624.2,1080.9 382.3,996.0 603.6,1076.7 341.4,1073.9 503.4,1011.2 496.4,891.9 341.4,969.3 360.1,929.8 520.9,1034.7 474.8,922.7 488.5,899.9 359.6,920.7 604.0,970.6 486.8,986.8 383.6,1047.6 494.0,1053.9 527.3,940.3 688.3,902.5 529.4,927.8 501.9,1077.6 476.1,938.2 587.2,997.8 536.1,924.9 668.9,1061.6 374.4,899.0 643.9,998.8 618.6,1009.4 421.1,1031.8 245.3,1041.0 657.7,976.2 446.2,1058.3 520.6,929.1 353.4,1043.7 383.8,894.1 494.3,1065.9 516.3,1037.5 462.4,1058.7 457.5,917.7 443.3,1031.6 579.9,1007.7 442.0,908.0 492.3,1079.5 466.7,1007.1 703.0,942.1 483.7,913.8 445.9,898.5 532.5,894.7 537.4,922.8 575.6,930.0 560.1,978.0 344.8,1052.2 518.1,1041.3 488.4,1010.3 644.0,979.6 445.4,925.5 630.7,996.9 488.1,1071.0 406.5,903.0 477.3,915.8 402.7,892.8 359.8,1034.8 418.7,891.8 456.8,1042.1 824.3,905.2 331.6,1076.8 330.1,1000.8 644.4,1067.0 405.3,928.5 872.7,905.1 541.3,1005.5 542.6,898.1 701.0,917.1 571.8,937.8 441.7,1062.2 418.0,1079.0 417.5,968.4 423.7,916.0 485.4,894.7 575.7,995.1 477.8,941.8 579.0,1049.1 600.1,891.6 582.3,941.9 245.3,1079.5 398.6,964.1 636.2,1054.7 675.1,1068.5 553.2,899.2 778.6,1069.5 434.1,970.0 375.9,922.1 694.6,908.4 645.8,991.3 550.9,894.1 599.1,1035.4 505.3,1064.8 441.7,1078.0 245.3,1071.4 369.1,1053.5 548.1,1064.0 423.7,1061.2 522.9,924.2 445.9,1073.3 461.3,1042.6 402.0,941.4 416.2,911.1 344.7,989.1 514.4,917.8 477.3,1056.4 517.3,1048.5 407.4,979.1 460.7,1052.0 567.9,1029.5 521.2,966.6 507.6,1081.5 655.5,928.9 515.0,977.8 408.4,931.0 454.8,928.7 481.1,1058.1 512.3,930.1 479.5,983.4 724.7,922.0 447.3,900.9 367.6,935.0 547.3,897.5 393.9,930.5 640.8,1040.8 565.5,992.6 637.4,1040.4 387.6,1071.6 402.2,997.9 526.9,995.3 518.1,1003.3 621.4,1078.3 543.3,1041.1 506.7,1041.2 465.3,1046.4 245.3,1054.5 482.9,1051.9 609.2,899.2 447.0,1033.7 613.2,1048.7 438.9,893.2 679.1,1013.2 592.6,999.5 458.7,904.1 449.4,941.3 393.7,930.7 489.8,976.3 493.3,905.9 576.6,1004.0 324.8,1076.5 504.6,1049.1 584.0,1048.5 542.6,907.8 526.3,1043.2 389.0,904.8 416.5,1051.3 572.4,897.9 327.0,1077.7 654.8,1080.9 370.1,1045.1 487.0,903.5 428.3,1066.8 530.0,914.7 451.4,898.4 500.2,1001.7 434.5,938.3 389.6,1002.9 524.0,1064.1 576.0,1013.1 369.1,912.3 360.6,910.5 557.0,910.9 578.5,1007.0 558.1,989.3 487.8,1062.6 620.2,962.3 599.0,973.2 563.3,1078.1 425.0,1056.6 659.5,940.2 537.5,1039.0 394.1,960.6 469.5,1056.1 409.1,974.9 580.1,1065.5 377.8,1052.1 511.1,1062.1 610.6,1071.2 506.0,1047.5 547.1,989.7 515.1,1047.2 388.3,1069.3 585.4,1081.4 594.1,984.1 516.0,897.7 527.0,1053.9 597.5,989.6 593.0,1033.3 471.3,909.2 346.3,1073.2 644.0,1078.9 527.0,986.9 452.9,1065.7 513.8,895.3 411.6,943.6 629.0,970.1 460.6,927.5 431.2,901.3 577.1,1059.5 491.1,1060.7 457.0,1056.2 487.0,1074.4 514.7,1065.1 597.3,939.9 473.4,996.6 581.2,913.1 424.5,1073.4 619.2,1063.0 480.4,962.0 591.0,921.6 530.6,904.0 537.0,982.8 515.2,994.9 511.9,1081.8 404.4,1034.1 475.4,1048.4 326.3,1080.5 465.9,1062.6 608.0,1077.2 554.9,1007.7 448.9,1044.7 472.8,983.8 629.5,1062.8 360.1,972.3 503.9,910.3 367.1,1038.0 584.3,896.9 427.2,1068.9 710.3,1029.4 605.4,979.8 511.9,1081.8 368.7,1034.0 487.7,975.3 377.1,1003.3 502.1,960.1 435.6,997.0 563.0,1051.2 580.1,1032.0 351.4,1057.2 545.6,978.3 449.2,1010.9 564.9,900.4 501.9,1038.0 245.3,1046.0 396.3,1076.1 400.6,1079.8 401.2,901.7 425.8,896.5 494.3,961.1 499.4,1065.8 569.0,999.5 611.8,968.3 563.9,916.5 643.6,980.7 564.6,907.5 487.6,1081.3 433.0,1069.9 596.6,911.4 764.7,1045.5 407.4,976.1 587.0,1033.7 647.1,1050.2 480.9,967.6 449.7,1053.3 418.9,1073.8 483.8,998.5 514.9,1060.4 566.0,962.9 578.7,891.4 588.8,968.2 511.2,1029.5 626.5,1009.6 401.1,1070.5 565.9,914.8 484.7,975.2 592.9,943.3 487.4,1072.1 400.4,928.9 494.9,1064.0 463.9,932.2 714.8,934.0 479.4,1007.7 486.0,937.0 736.9,978.0 397.5,920.3 375.1,1080.0 444.5,1078.6 391.0,1012.3 441.9,1074.6 474.3,1010.8 662.4,932.5 365.4,1048.5 555.8,942.6 532.4,1077.2 499.4,941.3 480.0,937.1 399.1,964.8 356.0,931.2 606.5,964.3 440.9,914.7 401.6,910.7 393.3,1033.4 490.8,917.1 379.2,991.3 484.8,1065.9 674.0,1062.5 403.7,925.5 467.0,940.7 380.6,934.9 493.0,908.1 608.7,1037.4 379.6,1048.3 330.4,979.8 544.9,1080.2 459.4,1038.8 453.0,915.6 438.7,903.2 631.1,944.1 426.4,1065.6 724.1,896.6 528.1,1007.5 506.4,934.5 433.4,1076.0 552.7,1067.7 377.1,1050.1 586.7,1034.2 408.6,990.0 489.6,988.2 446.0,1011.4 343.8,1070.3 420.9,1056.6 601.2,1013.2 521.0,936.7 341.4,975.9 528.8,1034.0 494.9,1004.0 746.2,1057.9 346.4,1078.5 572.7,1031.0 429.1,1011.3 564.5,938.7 474.2,1037.4 545.4,1036.2 525.6,1007.9 354.0,1078.6 524.0,1070.4 360.5,942.5 434.5,928.3 491.9,966.7 335.4,1050.8 245.3,1035.9 403.8,1052.2 495.1,922.9 619.1,1009.3 563.7,1013.1 364.7,897.4 517.8,1000.8 442.4,1009.1 617.4,1036.4 616.1,1036.2 494.0,1055.2 477.3,974.0 842.7,916.5 581.6,972.3 526.7,1054.2 525.9,962.7 392.1,913.4 582.7,1063.4 448.7,1001.5 663.2,895.3 504.0,977.5 533.8,1035.2 543.5,938.8 538.7,932.5 560.4,941.4 553.7,1060.2 606.8,1036.9 363.0,1053.4 457.0,1046.1 490.4,932.2 433.5,923.5 534.2,1034.0 554.7,1071.4 467.0,900.1 568.8,942.3 590.8,894.2 457.5,967.7 522.1,979.8 647.0,1078.4 562.0,981.2 365.0,1031.5 573.4,1081.9 442.8,929.2 505.6,1047.7 366.8,1047.8 373.9,960.2 698.0,999.9 621.5,1062.6 383.9,901.1 441.0,941.6 610.9,893.7 503.3,1068.1 472.0,912.3 542.0,915.6 542.5,902.8 424.1,999.5 571.9,1074.9 380.4,1066.6 441.4,972.2 381.5,902.5 567.1,1000.5 540.3,1050.0 411.2,1030.5 445.6,938.0 447.8,909.3 484.9,933.8 397.7,1045.8 482.0,1071.9 603.5,1060.3 633.4,1074.3 598.6,1063.5 381.9,1002.1 503.1,905.4 505.3,896.1 517.2,1066.6 515.4,928.8 605.5,987.6 443.3,907.5 474.1,1003.6 340.8,1062.6 625.8,967.5 495.9,1066.6 486.6,987.2 497.8,1048.5 499.6,906.9 509.7,925.5 432.2,1071.0 409.1,971.2 504.8,934.9 360.6,981.6 547.2,1002.0 572.4,997.6 566.5,1029.8 700.5,913.8 590.9,1002.9 533.7,936.7 351.1,1053.2 549.9,986.6 534.2,1053.4 566.6,1073.5 510.1,907.7 513.1,1069.6 515.2,973.2 637.4,1067.5 585.2,1078.8 599.6,970.1 490.0,989.9 703.3,1075.8 575.4,894.4 333.6,1067.9 481.1,1063.2 328.9,1079.9 596.9,1056.5 485.8,1073.1 407.9,1066.6 523.4,930.7 607.1,894.4 366.1,1030.1 391.1,921.5 401.4,944.3 538.6,938.7 491.0,1074.2 435.1,989.5 621.0,1032.9 386.1,903.6 362.3,1063.6 391.9,900.1 505.7,970.5 475.0,1070.8 358.8,969.5 495.7,1062.4 499.9,1046.9 387.5,1005.1 520.8,1030.9 579.8,1008.7 461.7,902.6 502.0,934.4 569.7,1058.1 597.0,1055.8 651.1,1031.9 379.3,917.5 493.8,931.2 643.7,914.2 532.4,1048.5 365.7,922.1 443.0,1068.9 367.8,997.2 417.6,984.1 518.5,897.9 339.4,999.9 413.9,1011.2 515.5,1065.1 495.7,939.3 784.3,933.6 560.7,1064.4 429.4,976.4 567.5,973.8 513.3,933.6 599.4,1058.4 470.7,1061.4 535.5,1049.8 444.9,1081.5 376.9,1031.3 680.6,973.7 554.1,1075.6 495.9,1042.5 492.0,964.9 424.5,1003.3 437.8,1038.1 392.4,971.8 600.3,1010.8 555.7,989.1 393.2,938.1 426.1,1049.0 567.1,943.3 420.5,1076.4 522.0,1039.0 451.5,986.0 493.0,1055.0 379.2,1075.1 520.2,913.8 399.9,895.3 357.3,988.5 570.6,997.9 532.2,917.7 516.9,1031.2 522.0,1070.9 419.9,988.7 605.1,976.5 552.8,1059.5 384.5,1006.5 521.0,933.5 526.0,897.7 374.3,1075.9 377.9,1063.9 726.4,968.5 376.8,1033.2 440.0,942.2 370.7,1005.1 357.9,1039.3 516.7,1042.5 387.2,1034.8 454.6,1079.0 413.1,1036.3 499.0,927.1 430.5,933.0 464.1,1040.4 508.5,1066.2 518.4,1058.0 591.3,900.7 651.5,1001.5 424.8,915.3 562.0,901.3 480.4,1069.2 367.5,1034.6 621.2,896.8 504.9,1057.4 514.3,1034.1 580.4,1063.5 370.5,996.6 441.6,1062.0 661.8,1068.1 838.7,1008.1 354.3,1055.2 383.6,1074.4 460.2,970.4 541.7,1043.0 398.4,905.5 414.8,1039.1 490.4,1066.4 547.4,898.6 588.9,1068.1 351.5,966.1 523.3,939.2 656.7,922.4 603.8,1047.6 529.1,980.2 544.1,1048.5 565.4,984.9 554.8,924.9 494.0,908.4 599.5,1054.1 585.7,936.5 491.0,969.4 595.4,1063.6 503.4,1043.8 532.1,972.5 449.7,928.5 677.6,966.4 414.0,912.6 608.6,992.7 543.6,897.7 597.5,1029.6 483.6,1050.0 361.9,1009.3 481.6,936.5 427.7,1066.1 423.9,1080.7 337.2,980.9 398.3,990.0 361.2,1000.0 417.2,1057.5 483.9,896.9 650.5,1054.7 461.0,1069.6 544.1,1059.7 564.9,978.9 464.7,1065.8 359.1,1055.9 482.1,938.9 563.0,923.8 559.0,1081.0 559.9,911.3 398.4,1080.0 362.6,1054.0 460.4,1040.6 587.5,973.7 444.5,1040.1 512.2,1038.9 447.4,1005.1 737.5,908.1 581.8,1031.7 429.5,920.3 370.1,937.2 452.5,900.0 527.2,1076.3 590.2,1053.3 414.7,1066.8 554.8,1032.7 452.0,1068.4 614.3,1075.3 522.3,1046.7 585.2,1063.7 605.4,995.6 573.0,1077.5 561.0,931.8 391.5,964.7 445.9,1029.2 649.5,910.9 458.2,1038.1 529.1,966.4 490.7,962.2 508.6,908.9 412.5,1064.8 647.0,1033.3 517.5,997.7 480.9,1029.3 593.5,1044.7 576.3,1068.3 549.0,1041.4 610.8,1055.9 366.3,1036.1 592.2,970.9 594.6,962.3 347.2,1040.3 567.6,1038.9 604.8,1044.5 710.3,1057.1 466.9,974.2 378.4,989.6 473.8,910.9 522.0,1079.8 591.4,904.6 747.6,1056.5 517.1,999.2 426.2,1060.7 559.7,1003.6 431.9,997.2 490.3,984.0 547.6,929.6 553.9,1039.2 663.0,915.0 411.7,1051.9 566.5,925.4 372.7,920.9 354.5,1057.7 467.8,911.8 541.5,1035.9 546.1,981.0 431.7,1077.5 751.4,970.0 519.8,915.9 484.4,1048.1 245.3,1034.8 431.1,919.9 599.9,1011.0 513.5,1008.1 510.1,1077.2 505.4,896.1 405.6,891.8 527.1,909.2 627.5,1041.7 510.4,1057.4 528.8,902.9 603.4,967.0 506.1,915.8 469.2,894.6 436.4,983.6 401.3,1073.2 551.0,988.9 665.2,908.8 374.7,928.0 245.3,1081.8 386.2,1039.1 500.2,1038.5 520.4,1006.8 335.0,1061.2 346.0,1046.6 493.8,992.5 245.3,1068.0 520.2,1043.5 529.1,1006.7 469.6,940.3 346.2,1035.6 490.0,1059.7 718.1,1007.5 455.8,895.0 504.9,1054.0 600.3,1029.7 366.8,895.3 459.6,1066.5 454.2,1003.2 458.1,1053.9 595.3,1072.5 425.8,1029.6 599.2,982.6 555.6,1047.2 472.3,1080.9 387.6,1053.4 617.1,1073.6 513.2,1057.9 355.7,937.7 568.7,894.9 437.9,993.7 468.9,930.4 532.7,933.0 470.0,902.9 487.6,975.7 571.3,1061.2 414.8,923.0 449.2,941.2 479.3,1052.0 416.8,903.1 426.8,1078.1 612.9,1009.8 364.6,997.6 470.5,942.7 697.8,993.4 405.9,1078.8 568.2,979.4 339.2,1061.7 245.3,1040.1 763.9,911.2 400.2,977.7 391.7,926.8 609.8,981.3 361.4,1067.8 537.4,910.5 504.8,1039.0 600.1,910.7 483.0,943.9 556.7,1003.5 614.6,966.5 487.8,1067.4 513.6,906.5 377.0,892.9 514.7,1011.2 582.5,911.8 411.0,1010.9 332.2,986.5 452.3,929.5 553.5,967.0 552.9,998.4 608.0,1078.6 820.0,906.2 781.8,1051.9 567.5,1060.6 403.8,897.1 376.3,975.9 425.3,906.6 416.9,943.7 486.8,993.0 547.3,904.3 533.6,965.0 595.3,1066.3 403.3,1061.1 643.2,981.2 387.4,993.5 545.6,1009.4 399.7,1077.4 510.9,1029.4 350.9,1037.2 565.5,937.9 530.2,892.7 565.0,1064.9 369.1,1068.3 544.8,980.5 525.0,906.9 606.3,1059.5 611.7,1081.2 530.3,1002.5 401.8,1058.1 403.4,940.2 365.3,999.9 430.9,932.9 431.9,1002.8 593.5,1009.5 381.8,1056.6 483.6,929.5 427.7,1005.8 690.5,899.4 642.5,964.5 400.7,978.7 606.8,966.5 522.7,911.8 749.4,1008.2 422.7,1046.7 709.2,978.7 409.9,911.0 626.7,1068.3 630.0,1030.7 384.1,1066.0 517.0,960.1 440.6,907.3 386.3,1031.6 416.1,899.3 423.0,940.7 488.8,1049.2 522.0,1054.7 433.3,915.5 382.4,1061.9 502.8,1007.5 679.0,1040.5 388.7,1044.8 469.3,916.5 590.6,990.3 359.0,1071.0 363.9,935.7 577.5,997.0 362.1,1004.5 661.5,903.5 454.1,1031.1 377.7,984.0 418.0,1071.3 402.7,1067.5 638.6,940.2 616.0,996.1 245.3,1055.6 545.2,1066.4 680.1,930.1 410.6,975.0 383.3,909.4 614.0,1031.6 519.9,967.0 447.5,1054.4 453.2,917.4 543.0,928.7 396.2,990.5 452.8,977.9 721.0,997.2 416.6,909.0 502.0,1008.9 351.7,1075.5 441.1,1064.5 539.9,908.0 390.0,999.4 384.7,1063.3 382.6,1078.8 498.8,1003.9 585.2,921.1 349.4,1031.5 412.6,995.0 436.4,917.4 362.2,1006.8 675.1,987.5 520.6,928.1 356.8,1040.5 596.9,979.4 585.4,924.1 501.1,893.3 525.4,1054.5 649.3,1065.2 464.0,1029.9 428.3,928.2 489.3,1002.0 245.3,1029.9 670.9,1057.0 456.5,1012.6 245.3,1045.8 507.2,972.2 497.0,938.6 469.8,1051.5 463.3,936.3 374.5,912.2 339.0,1043.6 466.1,894.6 378.3,999.9 475.6,963.9 528.3,1040.0 483.5,892.6 334.5,1059.6 523.2,1078.8 360.8,1051.5 476.0,920.5 340.2,1033.0 514.2,1036.9 432.3,971.1 495.0,969.8 468.9,964.2 750.8,924.7 449.2,1070.4 363.0,1030.0 372.8,1080.1 645.5,1057.3 448.2,1032.5 406.8,930.7 492.7,1054.5 460.9,1047.1 510.1,925.3 443.5,931.3 464.3,1049.1 403.8,1041.0 388.1,931.9 396.9,932.9 568.7,923.2 579.3,905.8 523.5,970.4 571.8,1079.1 559.0,1057.5 541.3,1054.6 566.6,971.4 411.8,996.4 341.0,1049.7 441.9,913.8 420.2,910.6 631.3,1053.0 452.0,1049.9 727.7,1058.6 409.7,998.7 638.1,988.5 542.6,934.3 548.3,925.0 655.3,1048.2 535.1,1048.4 547.8,911.7 332.2,1032.0 457.3,1041.5 393.9,1043.8 400.3,1079.7 387.9,1058.8 676.7,909.2 371.0,941.9 432.1,1070.3 417.0,972.4 682.8,1076.3 578.7,900.3 492.0,977.3 519.7,1009.5 437.8,1045.5 398.0,902.8 771.3,917.1 378.5,996.7 518.2,998.4 329.9,1064.7 467.5,938.1 508.7,938.3 539.5,1057.6 349.2,1057.2 490.6,965.6 475.2,900.7 615.8,1071.9 374.7,1037.5 386.9,1038.2 605.5,1044.9 519.4,1074.2 419.5,990.3 359.0,985.2 353.2,1033.0 464.1,920.1 406.4,1063.6 561.6,1078.0 569.0,1074.1 433.2,940.4 637.1,995.5 402.3,1063.6 641.4,1065.7 336.4,1032.6 495.9,1036.8 397.8,909.5 418.1,1057.5 671.4,1073.5 508.4,1041.9 864.6,894.3 400.5,1072.9 428.1,1046.2 482.6,995.1 573.0,914.5 583.7,1037.5 372.1,1036.3 450.5,1001.4 667.3,1045.0 389.6,903.0 581.1,1036.7 451.9,904.8 337.5,914.1 383.1,922.8 500.4,1063.1 416.8,1053.4 434.3,915.3 445.8,921.9 636.5,937.8 405.6,979.7 589.4,1068.1 714.3,916.7 518.3,996.3 491.1,912.8 439.7,891.7 405.1,994.0 398.3,1077.8 584.3,910.0 447.7,1054.2 465.8,907.5 387.8,941.8 538.9,1058.6 562.7,963.4 403.0,911.5 621.9,974.7 337.7,974.3 513.5,1063.7 606.8,983.4 516.9,893.2 419.3,1042.4 375.1,907.3 506.3,1056.5 419.0,1046.6 480.8,965.6 818.7,1035.8 380.8,1009.1 439.5,1034.1 377.6,1081.6 510.6,965.4 245.3,1062.4 539.7,1039.0 440.9,991.8 468.9,941.6 245.3,1038.2 360.3,1075.5 580.3,914.2 511.1,1044.0 430.7,927.4 724.3,932.2 601.8,1011.6 451.6,1035.3 386.0,1042.2 495.5,1030.3 361.0,1043.6 687.5,982.0 540.3,1045.7 425.1,960.7 475.7,969.2 562.6,994.1 566.8,969.7 684.2,932.0 541.0,1006.3 511.8,999.3 381.2,1053.1 450.9,1030.3 614.1,923.5 525.9,1049.0 503.3,1041.8 535.8,914.6 512.3,932.4 398.8,1031.4 533.6,1065.7 735.3,1038.8 476.6,942.5 550.3,1033.8 404.2,1005.4 653.8,1079.8 573.4,992.5 530.1,975.2 459.6,921.1 412.2,1053.5 465.4,1042.8 396.8,1005.8 713.5,904.1 372.8,1076.4 485.7,892.3 326.1,1044.4 553.0,892.1 385.3,1053.5 564.0,1080.7 376.9,993.0 443.2,1060.7 330.7,1074.5 449.6,977.1 558.7,915.4 562.9,969.7 576.7,1054.2 629.8,1028.8 433.1,1044.2 501.8,968.3 554.1,1075.2 769.8,1060.1 350.4,1078.9 477.0,1030.8 541.9,1045.1 450.5,1041.6 389.6,942.5 567.3,895.9 396.6,992.3 452.1,1077.4 716.9,923.6 594.6,996.2 581.4,1052.5 549.4,1081.1 420.3,924.1 692.7,904.9 774.5,944.4 864.7,1009.5 369.7,1004.0 415.2,934.1 502.7,1037.6 471.8,994.1 508.9,935.0 366.5,936.6 379.6,977.1 426.3,1076.3 590.2,967.8 542.8,1033.2 376.3,984.4 502.5,1032.5 506.5,1030.1 392.2,990.2 426.8,1036.1 378.8,1065.2 482.7,1067.7 383.4,997.7 467.0,943.9 436.7,1072.2 599.6,1033.6 510.5,1062.0 578.3,972.8 412.2,1042.1 431.4,1080.1 542.0,962.3 598.0,990.7 383.2,990.8 491.0,940.0 484.7,988.8 424.3,910.2 500.9,933.0 409.4,1005.4 357.5,897.9 340.6,1070.2 473.3,932.2 552.6,988.7 438.3,1012.2 389.8,992.8 553.4,1056.7 388.4,1061.2 571.9,1011.5 406.3,1041.0 551.9,930.4 368.2,972.3 585.8,1056.1 445.6,931.8 747.2,900.7 447.2,1060.6 540.9,984.3 569.5,1012.7 574.4,1064.9 469.8,904.1 565.6,962.7 428.3,926.0 389.8,921.2 372.7,1050.0 521.1,1059.0 371.0,1075.2 479.5,989.8 399.1,1043.5 500.3,993.0 329.7,1062.1 415.3,927.8 613.2,907.5 523.4,1045.7 449.9,928.1 509.1,1079.2 513.8,1069.8 650.0,963.7 615.7,893.3 357.0,910.0 374.6,1047.5 498.2,992.7 245.3,1038.4 454.0,1046.2 404.3,998.0 555.5,960.4 479.9,973.4 245.3,1067.9 596.0,929.4 585.9,939.2 492.2,985.1 467.6,994.7 553.3,898.4 453.8,976.7 626.5,995.8 702.7,931.1 381.4,1081.9 657.8,1047.7 533.0,938.4 444.3,981.3 467.2,1047.9 524.0,1047.1 591.0,902.1 467.2,1008.8 376.1,892.0 521.8,916.0 554.1,965.4 245.3,1065.6 625.2,912.8 393.4,1011.7 485.3,931.3 464.4,917.0 500.9,913.4 755.1,922.8 581.8,1044.7 501.4,1035.6 347.6,966.2 730.9,1070.5 603.9,1058.3 245.4,170.2 316.5,619.0 1621.3,1067.1 341.0,753.6 372.4,754.4 329.4,779.2 351.0,793.0 391.6,780.4 407.4,794.0 401.0,800.0 382.0,804.4 430.4,754.4 430.4,769.0 431.6,784.0 435.6,794.4 430.4,803.6 456.0,771.0 473.6,784.0 479.0,772.4 481.0,763.0 485.0,769.0 489.6,753.0 489.0,793.0 500.0,795.6 534.6,762.0 524.0,774.0 529.0,781.0 523.6,788.0 538.0,783.0 547.0,782.0 556.0,778.0 550.0,792.0 361.6,833.6 400.6,830.0 435.0,837.0 507.6,837.6 553.0,840.4 571.0,840.6 372.4,862.0 397.0,862.4 422.4,869.6 452.4,861.0 493.0,860.0 503.0,860.4 538.0,859.0 594.0,875.6 323.6,891.8 610.0,776.0 626.5,756.0 612.4,822.4 643.6,767.6 641.6,784.4 655.6,800.0 721.0,769.0 778.0,762.4 754.4,836.4 683.6,872.0 789.6,863.0 963.4,801.6 1130.4,905.6 1080.5,927.5 1071.0,1074.0 911.5,896.5 903.7,909.2 975.3,920.3 987.3,930.1 1013.2,906.1 1058.0,920.5 906.3,975.5 940.1,975.8 882.8,987.5 903.1,1027.3 896.7,1034.7 892.0,1049.5 897.6,1056.9 925.3,1051.7 960.5,1046.7 954.9,1067.4 1017.3,1052.2 1044.3,1031.3 1071.5,1028.6 880.0,1055.0 242.5,906.3 248.5,906.3 267.4,919.4 245.2,939.1 245.2,965.3 256.2,1011.2 260.1,1029.6 277.9,1043.2 257.0,1072.8 298.9,932.6 295.0,940.4 313.3,943.6 315.9,921.5 323.8,912.9 318.0,964.0 314.6,1002.0 312.5,1032.2 314.6,1078.1"/>
</g>
<rect x="177.5" y="126.2" width="1511.7" height="1000.7" fill="none" stroke="#000" stroke-width="2.3"/>
<text x="177.6" y="81" font-size="70" fill="#000">tree_depth = 5</text>
<g font-size="47.5" fill="#4D4D4D" text-anchor="middle">
<text x="245.3" y="1188">0</text>
<text x="516.1" y="1188">100</text>
<text x="786.9" y="1188">200</text>
<text x="1057.7" y="1188">300</text>
<text x="1328.5" y="1188">400</text>
<text x="1599.3" y="1188">500</text>
</g>
<g font-size="47.5" fill="#4D4D4D" text-anchor="end">
<text x="151" y="1072.8">0</text>
<text x="151" y="729.0">5</text>
<text x="151" y="385.2">10</text>
</g>
<text x="933.2" y="1255.3" font-size="58.3" fill="#000" text-anchor="middle">average_daily_rate</text>
<text transform="translate(70.9,626.5) rotate(-90)" font-size="58.3" fill="#000" text-anchor="middle">stays_in_weekend_nights</text>
<g font-size="58.3" fill="#000">
<text x="1777" y="389.3">predicted</text>
<text x="1777.2" y="733.2">true</text>
</g>
<rect x="1780.6" y="427.5" width="65.8" height="65.8" fill="#C2E4F0" stroke="#000" stroke-width="4.5"/>
<rect x="1780.6" y="499.6" width="65.8" height="65.8" fill="#FDFBFC" stroke="#000" stroke-width="4.5"/>
<g font-size="47.4" fill="#000">
<text x="1877.4" y="477.6">none</text>
<text x="1877.2" y="549.2">children</text>
<text x="1877.2" y="821.3">children</text>
<text x="1877.4" y="893.2">none</text>
</g>
<polyline fill="none" stroke="none" marker-start="url(#mk)" marker-mid="url(#mk)" marker-end="url(#mk)" points="1813.4,804.6"/><polyline fill="none" stroke="none" marker-start="url(#mn)" marker-mid="url(#mn)" marker-end="url(#mn)" points="1813.4,876.7"/>
</svg></body></html>
